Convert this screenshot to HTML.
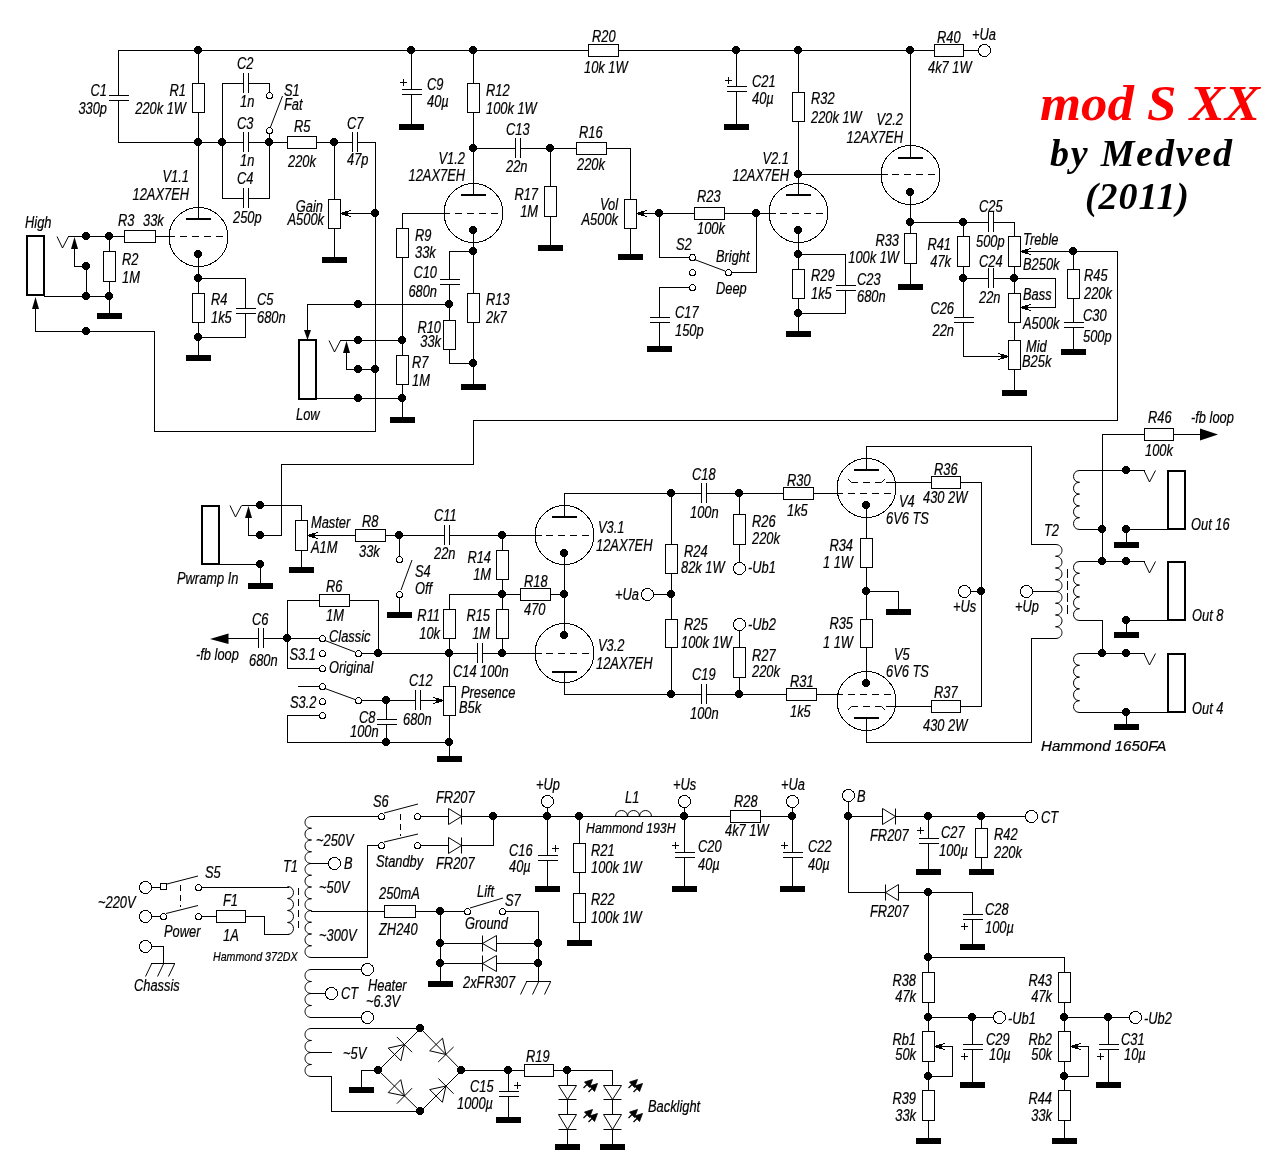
<!DOCTYPE html>
<html><head><meta charset="utf-8"><style>html,body{margin:0;padding:0;background:#fff;overflow:hidden}svg{display:block;will-change:transform}</style></head><body>
<svg width="1284" height="1172" viewBox="0 0 1284 1172">
<rect width="1284" height="1172" fill="#fff"/>
<g fill="none" stroke="#000" stroke-width="1" stroke-linecap="square" shape-rendering="crispEdges">
<path d="M118.5 50.5 L978.5 50.5"/>
<path d="M118.5 50.5 L118.5 142.5"/>
<path d="M198.5 50.5 L198.5 218.5"/>
<path d="M118.5 142.5 L375.5 142.5"/>
<path d="M222.5 83.5 L222.5 198.5"/>
<path d="M222.5 83.5 L269.5 83.5"/>
<path d="M269.5 83.5 L269.5 92.5"/>
<path d="M222.5 198.5 L269.5 198.5"/>
<path d="M269.5 133.5 L269.5 198.5"/>
<path d="M334.5 142.5 L334.5 257.5"/>
<path d="M341.5 213.5 L375.5 213.5"/>
<path d="M375.5 142.5 L375.5 431.5"/>
<path d="M68.5 236.5 L174.5 236.5"/>
<path d="M74.5 245.5 L74.5 266.5"/>
<path d="M74.5 266.5 L86.5 266.5"/>
<path d="M86.5 266.5 L86.5 296.5"/>
<path d="M109.5 236.5 L109.5 313.5"/>
<path d="M44.5 296.5 L109.5 296.5"/>
<path d="M35.5 305.5 L35.5 331.5"/>
<path d="M35.5 331.5 L154.5 331.5"/>
<path d="M154.5 331.5 L154.5 431.5"/>
<path d="M154.5 431.5 L375.5 431.5"/>
<path d="M198.5 254.5 L198.5 355.5"/>
<path d="M198.5 278.5 L245.5 278.5"/>
<path d="M245.5 278.5 L245.5 337.5"/>
<path d="M198.5 337.5 L245.5 337.5"/>
<path d="M411.5 50.5 L411.5 124.5"/>
<path d="M473.5 50.5 L473.5 194.5"/>
<path d="M473.5 148.5 L630.5 148.5"/>
<path d="M630.5 148.5 L630.5 199.5"/>
<path d="M550.5 148.5 L550.5 245.5"/>
<path d="M402.5 213.5 L449.5 213.5"/>
<path d="M402.5 213.5 L402.5 417.5"/>
<path d="M473.5 230.5 L473.5 384.5"/>
<path d="M449.5 251.5 L473.5 251.5"/>
<path d="M449.5 251.5 L449.5 363.5"/>
<path d="M449.5 363.5 L473.5 363.5"/>
<path d="M307.5 304.5 L449.5 304.5"/>
<path d="M307.5 304.5 L307.5 332.5"/>
<path d="M340.5 340.5 L402.5 340.5"/>
<path d="M346.5 350.5 L346.5 369.5"/>
<path d="M346.5 369.5 L375.5 369.5"/>
<path d="M316.5 398.5 L402.5 398.5"/>
<path d="M736.5 50.5 L736.5 124.5"/>
<path d="M798.5 50.5 L798.5 194.5"/>
<path d="M798.5 174.5 L887.5 174.5"/>
<path d="M630.5 228.5 L630.5 254.5"/>
<path d="M637.5 213.5 L775.5 213.5"/>
<path d="M659.5 213.5 L659.5 257.5"/>
<path d="M659.5 257.5 L689.5 257.5"/>
<path d="M731.5 272.5 L756.5 272.5"/>
<path d="M756.5 213.5 L756.5 272.5"/>
<path d="M659.5 287.5 L689.5 287.5"/>
<path d="M659.5 287.5 L659.5 346.5"/>
<path d="M798.5 230.5 L798.5 331.5"/>
<path d="M798.5 254.5 L845.5 254.5"/>
<path d="M845.5 254.5 L845.5 313.5"/>
<path d="M798.5 313.5 L845.5 313.5"/>
<path d="M910.5 50.5 L910.5 157.5"/>
<path d="M910.5 192.5 L910.5 284.5"/>
<path d="M910.5 222.5 L1014.5 222.5"/>
<path d="M963.5 222.5 L963.5 278.5"/>
<path d="M1014.5 222.5 L1014.5 390.5"/>
<path d="M1021.5 251.5 L1117.5 251.5"/>
<path d="M1117.5 251.5 L1117.5 420.5"/>
<path d="M963.5 278.5 L1055.5 278.5"/>
<path d="M1055.5 278.5 L1055.5 307.5"/>
<path d="M1021.5 307.5 L1055.5 307.5"/>
<path d="M963.5 278.5 L963.5 356.5"/>
<path d="M963.5 356.5 L1007.5 356.5"/>
<path d="M1073.5 251.5 L1073.5 349.5"/>
<path d="M473.5 420.5 L1117.5 420.5"/>
<path d="M473.5 420.5 L473.5 464.5"/>
<path d="M281.5 464.5 L473.5 464.5"/>
<path d="M281.5 464.5 L281.5 535.5"/>
<path d="M242.5 505.5 L301.5 505.5"/>
<path d="M301.5 505.5 L301.5 567.5"/>
<path d="M248.5 515.5 L248.5 535.5"/>
<path d="M248.5 535.5 L281.5 535.5"/>
<path d="M219.5 564.5 L260.5 564.5"/>
<path d="M260.5 564.5 L260.5 583.5"/>
<path d="M308.5 535.5 L541.5 535.5"/>
<path d="M399.5 535.5 L399.5 556.5"/>
<path d="M399.5 597.5 L399.5 612.5"/>
<path d="M287.5 600.5 L378.5 600.5"/>
<path d="M287.5 600.5 L287.5 668.5"/>
<path d="M378.5 600.5 L378.5 653.5"/>
<path d="M228.5 638.5 L319.5 638.5"/>
<path d="M287.5 668.5 L319.5 668.5"/>
<path d="M361.5 653.5 L541.5 653.5"/>
<path d="M449.5 594.5 L449.5 742.5"/>
<path d="M449.5 594.5 L564.5 594.5"/>
<path d="M502.5 535.5 L502.5 653.5"/>
<path d="M564.5 553.5 L564.5 635.5"/>
<path d="M449.5 742.5 L449.5 756.5"/>
<path d="M298.5 686.5 L319.5 686.5"/>
<path d="M361.5 700.5 L442.5 700.5"/>
<path d="M386.5 700.5 L386.5 742.5"/>
<path d="M287.5 715.5 L319.5 715.5"/>
<path d="M287.5 715.5 L287.5 742.5"/>
<path d="M287.5 742.5 L449.5 742.5"/>
<path d="M564.5 493.5 L564.5 515.5"/>
<path d="M564.5 493.5 L842.5 493.5"/>
<path d="M671.5 493.5 L671.5 694.5"/>
<path d="M653.5 594.5 L671.5 594.5"/>
<path d="M739.5 493.5 L739.5 562.5"/>
<path d="M739.5 630.5 L739.5 694.5"/>
<path d="M564.5 671.5 L564.5 694.5"/>
<path d="M564.5 694.5 L842.5 694.5"/>
<path d="M866.5 446.5 L866.5 469.5"/>
<path d="M866.5 446.5 L1031.5 446.5"/>
<path d="M1031.5 446.5 L1031.5 544.5"/>
<path d="M1031.5 544.5 L1055.5 544.5"/>
<path d="M886.5 482.5 L981.5 482.5"/>
<path d="M981.5 482.5 L981.5 706.5"/>
<path d="M970.5 591.5 L981.5 591.5"/>
<path d="M866.5 505.5 L866.5 683.5"/>
<path d="M866.5 591.5 L898.5 591.5"/>
<path d="M898.5 591.5 L898.5 609.5"/>
<path d="M866.5 717.5 L866.5 742.5"/>
<path d="M866.5 742.5 L1031.5 742.5"/>
<path d="M1031.5 638.5 L1031.5 742.5"/>
<path d="M1031.5 638.5 L1055.5 638.5"/>
<path d="M886.5 706.5 L981.5 706.5"/>
<path d="M1032.5 591.5 L1055.5 591.5"/>
<path d="M1079.5 470.5 L1144.5 470.5"/>
<path d="M1079.5 529.5 L1102.5 529.5"/>
<path d="M1126.5 529.5 L1167.5 529.5"/>
<path d="M1126.5 529.5 L1126.5 542.5"/>
<path d="M1102.5 434.5 L1102.5 561.5"/>
<path d="M1102.5 434.5 L1200.5 434.5"/>
<path d="M1079.5 561.5 L1144.5 561.5"/>
<path d="M1079.5 620.5 L1102.5 620.5"/>
<path d="M1102.5 620.5 L1102.5 653.5"/>
<path d="M1126.5 620.5 L1167.5 620.5"/>
<path d="M1126.5 620.5 L1126.5 632.5"/>
<path d="M1079.5 653.5 L1144.5 653.5"/>
<path d="M1079.5 712.5 L1167.5 712.5"/>
<path d="M1126.5 712.5 L1126.5 724.5"/>
<path d="M311.5 816.5 L378.5 816.5"/>
<path d="M420.5 816.5 L792.5 816.5"/>
<path d="M367.5 845.5 L378.5 845.5"/>
<path d="M420.5 845.5 L493.5 845.5"/>
<path d="M493.5 816.5 L493.5 845.5"/>
<path d="M367.5 845.5 L367.5 957.5"/>
<path d="M311.5 957.5 L367.5 957.5"/>
<path d="M311.5 863.5 L328.5 863.5"/>
<path d="M311.5 911.5 L464.5 911.5"/>
<path d="M505.5 911.5 L538.5 911.5"/>
<path d="M538.5 911.5 L538.5 981.5"/>
<path d="M440.5 911.5 L440.5 981.5"/>
<path d="M440.5 943.5 L538.5 943.5"/>
<path d="M440.5 963.5 L538.5 963.5"/>
<path d="M547.5 807.5 L547.5 886.5"/>
<path d="M579.5 816.5 L579.5 940.5"/>
<path d="M684.5 807.5 L684.5 886.5"/>
<path d="M792.5 807.5 L792.5 886.5"/>
<path d="M151.5 887.5 L160.5 887.5"/>
<path d="M201.5 887.5 L288.5 887.5"/>
<path d="M151.5 916.5 L160.5 916.5"/>
<path d="M201.5 916.5 L264.5 916.5"/>
<path d="M264.5 916.5 L264.5 934.5"/>
<path d="M264.5 934.5 L288.5 934.5"/>
<path d="M151.5 946.5 L163.5 946.5"/>
<path d="M163.5 946.5 L163.5 963.5"/>
<path d="M311.5 969.5 L361.5 969.5"/>
<path d="M311.5 993.5 L325.5 993.5"/>
<path d="M311.5 1017.5 L361.5 1017.5"/>
<path d="M311.5 1028.5 L420.5 1028.5"/>
<path d="M311.5 1052.5 L331.5 1052.5"/>
<path d="M311.5 1076.5 L331.5 1076.5"/>
<path d="M331.5 1076.5 L331.5 1111.5"/>
<path d="M331.5 1111.5 L420.5 1111.5"/>
<path d="M361.5 1070.5 L378.5 1070.5"/>
<path d="M361.5 1070.5 L361.5 1087.5"/>
<path d="M461.5 1070.5 L612.5 1070.5"/>
<path d="M612.5 1070.5 L612.5 1144.5"/>
<path d="M508.5 1070.5 L508.5 1117.5"/>
<path d="M567.5 1070.5 L567.5 1144.5"/>
<path d="M848.5 801.5 L848.5 892.5"/>
<path d="M848.5 816.5 L1025.5 816.5"/>
<path d="M928.5 816.5 L928.5 869.5"/>
<path d="M981.5 816.5 L981.5 869.5"/>
<path d="M848.5 892.5 L972.5 892.5"/>
<path d="M972.5 892.5 L972.5 944.5"/>
<path d="M928.5 892.5 L928.5 1138.5"/>
<path d="M928.5 957.5 L1064.5 957.5"/>
<path d="M1064.5 957.5 L1064.5 1138.5"/>
<path d="M928.5 1017.5 L993.5 1017.5"/>
<path d="M935.5 1046.5 L952.5 1046.5"/>
<path d="M952.5 1046.5 L952.5 1076.5"/>
<path d="M928.5 1076.5 L952.5 1076.5"/>
<path d="M972.5 1017.5 L972.5 1082.5"/>
<path d="M1064.5 1017.5 L1129.5 1017.5"/>
<path d="M1071.5 1046.5 L1088.5 1046.5"/>
<path d="M1088.5 1046.5 L1088.5 1076.5"/>
<path d="M1064.5 1076.5 L1088.5 1076.5"/>
<path d="M1108.5 1017.5 L1108.5 1082.5"/>
</g>
<g fill="none" stroke="#000" stroke-width="1" shape-rendering="crispEdges">
<rect x="109" y="96" width="20" height="4" fill="#fff" stroke="none"/>
<path d="M109 95.5 H129"/>
<path d="M109 100.5 H129"/>
<rect x="192.5" y="83.5" width="12" height="29" fill="#fff"/>
<path d="M196.4 138.1 L199.8 138.1 L202.1 140.4 L202.1 143.8 L199.8 146.1 L196.4 146.1 L194.1 143.8 L194.1 140.4 Z" fill="#000" stroke="none" shape-rendering="crispEdges"/>
<path d="M220.4 138.1 L223.8 138.1 L226.1 140.4 L226.1 143.8 L223.8 146.1 L220.4 146.1 L218.1 143.8 L218.1 140.4 Z" fill="#000" stroke="none" shape-rendering="crispEdges"/>
<path d="M267.4 138.1 L270.8 138.1 L273.1 140.4 L273.1 143.8 L270.8 146.1 L267.4 146.1 L265.1 143.8 L265.1 140.4 Z" fill="#000" stroke="none" shape-rendering="crispEdges"/>
<path d="M332.4 138.1 L335.8 138.1 L338.1 140.4 L338.1 143.8 L335.8 146.1 L332.4 146.1 L330.1 143.8 L330.1 140.4 Z" fill="#000" stroke="none" shape-rendering="crispEdges"/>
<path d="M196.4 46.1 L199.8 46.1 L202.1 48.4 L202.1 51.8 L199.8 54.1 L196.4 54.1 L194.1 51.8 L194.1 48.4 Z" fill="#000" stroke="none" shape-rendering="crispEdges"/>
<rect x="244" y="73" width="4" height="20" fill="#fff" stroke="none"/>
<path d="M243.5 73 V93"/>
<path d="M248.5 73 V93"/>
<rect x="244" y="132" width="4" height="20" fill="#fff" stroke="none"/>
<path d="M243.5 132 V152"/>
<path d="M248.5 132 V152"/>
<rect x="244" y="188" width="4" height="20" fill="#fff" stroke="none"/>
<path d="M243.5 188 V208"/>
<path d="M248.5 188 V208"/>
<circle cx="269.5" cy="95.5" r="3" fill="#fff" shape-rendering="crispEdges"/>
<circle cx="269.5" cy="130.5" r="3" fill="#fff" shape-rendering="crispEdges"/>
<path d="M270.5 127 L282.5 96" stroke-width="1" shape-rendering="auto"/>
<rect x="287.5" y="136.5" width="29" height="12" fill="#fff"/>
<rect x="353" y="132" width="4" height="20" fill="#fff" stroke="none"/>
<path d="M352.5 132 V152"/>
<path d="M357.5 132 V152"/>
<rect x="328.5" y="199.5" width="12" height="29" fill="#fff"/>
<rect x="322" y="257" width="25" height="6" fill="#000" stroke="none"/>
<rect x="342" y="212" width="3" height="3" fill="#000" stroke="none"/>
<rect x="345" y="211" width="3" height="5" fill="#000" stroke="none"/>
<rect x="348" y="211" width="1" height="1" fill="#000" stroke="none"/>
<rect x="348" y="215" width="1" height="1" fill="#000" stroke="none"/>
<rect x="349" y="210" width="2" height="1" fill="#000" stroke="none"/>
<rect x="349" y="216" width="2" height="1" fill="#000" stroke="none"/>
<path d="M373.4 209.1 L376.8 209.1 L379.1 211.4 L379.1 214.8 L376.8 217.1 L373.4 217.1 L371.1 214.8 L371.1 211.4 Z" fill="#000" stroke="none" shape-rendering="crispEdges"/>
<circle cx="198.5" cy="237" r="29.5" fill="none" shape-rendering="crispEdges"/>
<rect x="186" y="218" width="25" height="2" fill="#000" stroke="none"/>
<path d="M180 236.5 H228" stroke-dasharray="7 5"/>
<rect x="124.5" y="230.5" width="31" height="12" fill="#fff"/>
<path d="M196.4 250.1 L199.8 250.1 L202.1 252.4 L202.1 255.8 L199.8 258.1 L196.4 258.1 L194.1 255.8 L194.1 252.4 Z" fill="#000" stroke="none" shape-rendering="crispEdges"/>
<path d="M84.4 232.1 L87.8 232.1 L90.1 234.4 L90.1 237.8 L87.8 240.1 L84.4 240.1 L82.1 237.8 L82.1 234.4 Z" fill="#000" stroke="none" shape-rendering="crispEdges"/>
<path d="M107.4 232.1 L110.8 232.1 L113.1 234.4 L113.1 237.8 L110.8 240.1 L107.4 240.1 L105.1 237.8 L105.1 234.4 Z" fill="#000" stroke="none" shape-rendering="crispEdges"/>
<path d="M57 236.5 L62.5 248 L68.5 236.5" fill="none" shape-rendering="auto"/>
<path d="M74.5 237 L71 249 L78 249 Z" fill="#000" stroke="none" shape-rendering="auto"/>
<path d="M84.4 262.1 L87.8 262.1 L90.1 264.4 L90.1 267.8 L87.8 270.1 L84.4 270.1 L82.1 267.8 L82.1 264.4 Z" fill="#000" stroke="none" shape-rendering="crispEdges"/>
<path d="M84.4 292.1 L87.8 292.1 L90.1 294.4 L90.1 297.8 L87.8 300.1 L84.4 300.1 L82.1 297.8 L82.1 294.4 Z" fill="#000" stroke="none" shape-rendering="crispEdges"/>
<path d="M107.4 292.1 L110.8 292.1 L113.1 294.4 L113.1 297.8 L110.8 300.1 L107.4 300.1 L105.1 297.8 L105.1 294.4 Z" fill="#000" stroke="none" shape-rendering="crispEdges"/>
<rect x="103.5" y="251.5" width="12" height="30" fill="#fff"/>
<rect x="97" y="313" width="25" height="6" fill="#000" stroke="none"/>
<rect x="27" y="236" width="17" height="59" fill="#fff" stroke-width="2"/>
<path d="M35.5 297 L32 309 L39 309 Z" fill="#000" stroke="none" shape-rendering="auto"/>
<path d="M84.4 327.1 L87.8 327.1 L90.1 329.4 L90.1 332.8 L87.8 335.1 L84.4 335.1 L82.1 332.8 L82.1 329.4 Z" fill="#000" stroke="none" shape-rendering="crispEdges"/>
<path d="M196.4 274.1 L199.8 274.1 L202.1 276.4 L202.1 279.8 L199.8 282.1 L196.4 282.1 L194.1 279.8 L194.1 276.4 Z" fill="#000" stroke="none" shape-rendering="crispEdges"/>
<path d="M196.4 333.1 L199.8 333.1 L202.1 335.4 L202.1 338.8 L199.8 341.1 L196.4 341.1 L194.1 338.8 L194.1 335.4 Z" fill="#000" stroke="none" shape-rendering="crispEdges"/>
<rect x="192.5" y="293.5" width="12" height="29" fill="#fff"/>
<rect x="236" y="309" width="20" height="4" fill="#fff" stroke="none"/>
<path d="M236 308.5 H256"/>
<path d="M236 313.5 H256"/>
<rect x="186" y="355" width="25" height="6" fill="#000" stroke="none"/>
<rect x="402" y="90" width="20" height="4" fill="#fff" stroke="none"/>
<path d="M402 89.5 H422"/>
<path d="M402 94.5 H422"/>
<path d="M400 82.5 H407 M403.5 79 V86" shape-rendering="crispEdges"/>
<rect x="399" y="124" width="25" height="6" fill="#000" stroke="none"/>
<path d="M409.4 46.1 L412.8 46.1 L415.1 48.4 L415.1 51.8 L412.8 54.1 L409.4 54.1 L407.1 51.8 L407.1 48.4 Z" fill="#000" stroke="none" shape-rendering="crispEdges"/>
<path d="M471.4 46.1 L474.8 46.1 L477.1 48.4 L477.1 51.8 L474.8 54.1 L471.4 54.1 L469.1 51.8 L469.1 48.4 Z" fill="#000" stroke="none" shape-rendering="crispEdges"/>
<rect x="467.5" y="83.5" width="12" height="29" fill="#fff"/>
<path d="M471.4 144.1 L474.8 144.1 L477.1 146.4 L477.1 149.8 L474.8 152.1 L471.4 152.1 L469.1 149.8 L469.1 146.4 Z" fill="#000" stroke="none" shape-rendering="crispEdges"/>
<rect x="516" y="138" width="4" height="20" fill="#fff" stroke="none"/>
<path d="M515.5 138 V158"/>
<path d="M520.5 138 V158"/>
<path d="M548.4 144.1 L551.8 144.1 L554.1 146.4 L554.1 149.8 L551.8 152.1 L548.4 152.1 L546.1 149.8 L546.1 146.4 Z" fill="#000" stroke="none" shape-rendering="crispEdges"/>
<rect x="576.5" y="142.5" width="30" height="12" fill="#fff"/>
<rect x="544.5" y="186.5" width="12" height="30" fill="#fff"/>
<rect x="538" y="245" width="25" height="6" fill="#000" stroke="none"/>
<circle cx="473.5" cy="213" r="29.5" fill="none" shape-rendering="crispEdges"/>
<rect x="461" y="194" width="25" height="2" fill="#000" stroke="none"/>
<path d="M455 213.5 H503" stroke-dasharray="7 5"/>
<rect x="396.5" y="228.5" width="12" height="29" fill="#fff"/>
<path d="M400.4 336.1 L403.8 336.1 L406.1 338.4 L406.1 341.8 L403.8 344.1 L400.4 344.1 L398.1 341.8 L398.1 338.4 Z" fill="#000" stroke="none" shape-rendering="crispEdges"/>
<rect x="396.5" y="355.5" width="12" height="29" fill="#fff"/>
<path d="M400.4 394.1 L403.8 394.1 L406.1 396.4 L406.1 399.8 L403.8 402.1 L400.4 402.1 L398.1 399.8 L398.1 396.4 Z" fill="#000" stroke="none" shape-rendering="crispEdges"/>
<rect x="390" y="417" width="25" height="6" fill="#000" stroke="none"/>
<path d="M471.4 226.1 L474.8 226.1 L477.1 228.4 L477.1 231.8 L474.8 234.1 L471.4 234.1 L469.1 231.8 L469.1 228.4 Z" fill="#000" stroke="none" shape-rendering="crispEdges"/>
<path d="M471.4 247.1 L474.8 247.1 L477.1 249.4 L477.1 252.8 L474.8 255.1 L471.4 255.1 L469.1 252.8 L469.1 249.4 Z" fill="#000" stroke="none" shape-rendering="crispEdges"/>
<rect x="440" y="280" width="20" height="4" fill="#fff" stroke="none"/>
<path d="M440 279.5 H460"/>
<path d="M440 284.5 H460"/>
<path d="M447.4 300.1 L450.8 300.1 L453.1 302.4 L453.1 305.8 L450.8 308.1 L447.4 308.1 L445.1 305.8 L445.1 302.4 Z" fill="#000" stroke="none" shape-rendering="crispEdges"/>
<rect x="443.5" y="320.5" width="12" height="29" fill="#fff"/>
<path d="M471.4 359.1 L474.8 359.1 L477.1 361.4 L477.1 364.8 L474.8 367.1 L471.4 367.1 L469.1 364.8 L469.1 361.4 Z" fill="#000" stroke="none" shape-rendering="crispEdges"/>
<rect x="467.5" y="293.5" width="12" height="29" fill="#fff"/>
<rect x="461" y="384" width="25" height="6" fill="#000" stroke="none"/>
<path d="M356.4 300.1 L359.8 300.1 L362.1 302.4 L362.1 305.8 L359.8 308.1 L356.4 308.1 L354.1 305.8 L354.1 302.4 Z" fill="#000" stroke="none" shape-rendering="crispEdges"/>
<path d="M307.5 340 L304 330 L311 330 Z" fill="#000" stroke="none" shape-rendering="auto"/>
<rect x="299" y="340" width="17" height="59" fill="#fff" stroke-width="2"/>
<path d="M329 340.5 L334.5 352 L340.5 340.5" fill="none" shape-rendering="auto"/>
<path d="M356.4 336.1 L359.8 336.1 L362.1 338.4 L362.1 341.8 L359.8 344.1 L356.4 344.1 L354.1 341.8 L354.1 338.4 Z" fill="#000" stroke="none" shape-rendering="crispEdges"/>
<path d="M346.5 341 L343 353 L350 353 Z" fill="#000" stroke="none" shape-rendering="auto"/>
<path d="M356.4 365.1 L359.8 365.1 L362.1 367.4 L362.1 370.8 L359.8 373.1 L356.4 373.1 L354.1 370.8 L354.1 367.4 Z" fill="#000" stroke="none" shape-rendering="crispEdges"/>
<path d="M373.4 365.1 L376.8 365.1 L379.1 367.4 L379.1 370.8 L376.8 373.1 L373.4 373.1 L371.1 370.8 L371.1 367.4 Z" fill="#000" stroke="none" shape-rendering="crispEdges"/>
<path d="M356.4 394.1 L359.8 394.1 L362.1 396.4 L362.1 399.8 L359.8 402.1 L356.4 402.1 L354.1 399.8 L354.1 396.4 Z" fill="#000" stroke="none" shape-rendering="crispEdges"/>
<rect x="588.5" y="44.5" width="30" height="12" fill="#fff"/>
<rect x="727" y="87" width="20" height="4" fill="#fff" stroke="none"/>
<path d="M727 86.5 H747"/>
<path d="M727 91.5 H747"/>
<path d="M725 80.5 H732 M728.5 77 V84" shape-rendering="crispEdges"/>
<rect x="724" y="124" width="25" height="6" fill="#000" stroke="none"/>
<path d="M734.4 46.1 L737.8 46.1 L740.1 48.4 L740.1 51.8 L737.8 54.1 L734.4 54.1 L732.1 51.8 L732.1 48.4 Z" fill="#000" stroke="none" shape-rendering="crispEdges"/>
<path d="M796.4 46.1 L799.8 46.1 L802.1 48.4 L802.1 51.8 L799.8 54.1 L796.4 54.1 L794.1 51.8 L794.1 48.4 Z" fill="#000" stroke="none" shape-rendering="crispEdges"/>
<rect x="792.5" y="92.5" width="12" height="29" fill="#fff"/>
<path d="M796.4 170.1 L799.8 170.1 L802.1 172.4 L802.1 175.8 L799.8 178.1 L796.4 178.1 L794.1 175.8 L794.1 172.4 Z" fill="#000" stroke="none" shape-rendering="crispEdges"/>
<rect x="624.5" y="199.5" width="12" height="29" fill="#fff"/>
<rect x="618" y="254" width="25" height="6" fill="#000" stroke="none"/>
<rect x="638" y="212" width="3" height="3" fill="#000" stroke="none"/>
<rect x="641" y="211" width="3" height="5" fill="#000" stroke="none"/>
<rect x="644" y="211" width="1" height="1" fill="#000" stroke="none"/>
<rect x="644" y="215" width="1" height="1" fill="#000" stroke="none"/>
<rect x="645" y="210" width="2" height="1" fill="#000" stroke="none"/>
<rect x="645" y="216" width="2" height="1" fill="#000" stroke="none"/>
<path d="M657.4 209.1 L660.8 209.1 L663.1 211.4 L663.1 214.8 L660.8 217.1 L657.4 217.1 L655.1 214.8 L655.1 211.4 Z" fill="#000" stroke="none" shape-rendering="crispEdges"/>
<rect x="694.5" y="207.5" width="30" height="12" fill="#fff"/>
<path d="M754.4 209.1 L757.8 209.1 L760.1 211.4 L760.1 214.8 L757.8 217.1 L754.4 217.1 L752.1 214.8 L752.1 211.4 Z" fill="#000" stroke="none" shape-rendering="crispEdges"/>
<circle cx="692.5" cy="257.5" r="3" fill="#fff" shape-rendering="crispEdges"/>
<circle cx="692.5" cy="272.5" r="3" fill="#fff" shape-rendering="crispEdges"/>
<circle cx="692.5" cy="287.5" r="3" fill="#fff" shape-rendering="crispEdges"/>
<circle cx="728.5" cy="272.5" r="3" fill="#fff" shape-rendering="crispEdges"/>
<path d="M694.5 259.5 L725 271" stroke-width="1" shape-rendering="auto"/>
<rect x="650" y="318" width="20" height="4" fill="#fff" stroke="none"/>
<path d="M650 317.5 H670"/>
<path d="M650 322.5 H670"/>
<rect x="647" y="346" width="25" height="6" fill="#000" stroke="none"/>
<circle cx="798.5" cy="213" r="29.5" fill="none" shape-rendering="crispEdges"/>
<rect x="786" y="194" width="25" height="2" fill="#000" stroke="none"/>
<path d="M780 213.5 H828" stroke-dasharray="7 5"/>
<path d="M796.4 226.1 L799.8 226.1 L802.1 228.4 L802.1 231.8 L799.8 234.1 L796.4 234.1 L794.1 231.8 L794.1 228.4 Z" fill="#000" stroke="none" shape-rendering="crispEdges"/>
<path d="M796.4 250.1 L799.8 250.1 L802.1 252.4 L802.1 255.8 L799.8 258.1 L796.4 258.1 L794.1 255.8 L794.1 252.4 Z" fill="#000" stroke="none" shape-rendering="crispEdges"/>
<rect x="792.5" y="269.5" width="12" height="29" fill="#fff"/>
<path d="M796.4 309.1 L799.8 309.1 L802.1 311.4 L802.1 314.8 L799.8 317.1 L796.4 317.1 L794.1 314.8 L794.1 311.4 Z" fill="#000" stroke="none" shape-rendering="crispEdges"/>
<rect x="836" y="286" width="20" height="4" fill="#fff" stroke="none"/>
<path d="M836 285.5 H856"/>
<path d="M836 290.5 H856"/>
<rect x="786" y="331" width="25" height="6" fill="#000" stroke="none"/>
<path d="M908.4 46.1 L911.8 46.1 L914.1 48.4 L914.1 51.8 L911.8 54.1 L908.4 54.1 L906.1 51.8 L906.1 48.4 Z" fill="#000" stroke="none" shape-rendering="crispEdges"/>
<rect x="934.5" y="44.5" width="29" height="12" fill="#fff"/>
<circle cx="984.5" cy="50.5" r="6" fill="#fff" shape-rendering="crispEdges"/>
<circle cx="910.5" cy="175" r="29.5" fill="none" shape-rendering="crispEdges"/>
<rect x="898" y="157" width="25" height="2" fill="#000" stroke="none"/>
<path d="M892 174.5 H940" stroke-dasharray="7 5"/>
<path d="M908.4 188.1 L911.8 188.1 L914.1 190.4 L914.1 193.8 L911.8 196.1 L908.4 196.1 L906.1 193.8 L906.1 190.4 Z" fill="#000" stroke="none" shape-rendering="crispEdges"/>
<path d="M908.4 218.1 L911.8 218.1 L914.1 220.4 L914.1 223.8 L911.8 226.1 L908.4 226.1 L906.1 223.8 L906.1 220.4 Z" fill="#000" stroke="none" shape-rendering="crispEdges"/>
<rect x="904.5" y="233.5" width="12" height="30" fill="#fff"/>
<rect x="898" y="284" width="25" height="6" fill="#000" stroke="none"/>
<path d="M961.4 218.1 L964.8 218.1 L967.1 220.4 L967.1 223.8 L964.8 226.1 L961.4 226.1 L959.1 223.8 L959.1 220.4 Z" fill="#000" stroke="none" shape-rendering="crispEdges"/>
<rect x="989" y="212" width="4" height="20" fill="#fff" stroke="none"/>
<path d="M988.5 212 V232"/>
<path d="M993.5 212 V232"/>
<rect x="957.5" y="236.5" width="12" height="30" fill="#fff"/>
<path d="M961.4 274.1 L964.8 274.1 L967.1 276.4 L967.1 279.8 L964.8 282.1 L961.4 282.1 L959.1 279.8 L959.1 276.4 Z" fill="#000" stroke="none" shape-rendering="crispEdges"/>
<rect x="1008.5" y="236.5" width="12" height="30" fill="#fff"/>
<path d="M1012.4 274.1 L1015.8 274.1 L1018.1 276.4 L1018.1 279.8 L1015.8 282.1 L1012.4 282.1 L1010.1 279.8 L1010.1 276.4 Z" fill="#000" stroke="none" shape-rendering="crispEdges"/>
<rect x="1022" y="250" width="3" height="3" fill="#000" stroke="none"/>
<rect x="1025" y="249" width="3" height="5" fill="#000" stroke="none"/>
<rect x="1028" y="249" width="1" height="1" fill="#000" stroke="none"/>
<rect x="1028" y="253" width="1" height="1" fill="#000" stroke="none"/>
<rect x="1029" y="248" width="2" height="1" fill="#000" stroke="none"/>
<rect x="1029" y="254" width="2" height="1" fill="#000" stroke="none"/>
<path d="M1071.4 247.1 L1074.8 247.1 L1077.1 249.4 L1077.1 252.8 L1074.8 255.1 L1071.4 255.1 L1069.1 252.8 L1069.1 249.4 Z" fill="#000" stroke="none" shape-rendering="crispEdges"/>
<rect x="989" y="268" width="4" height="20" fill="#fff" stroke="none"/>
<path d="M988.5 268 V288"/>
<path d="M993.5 268 V288"/>
<rect x="1022" y="306" width="3" height="3" fill="#000" stroke="none"/>
<rect x="1025" y="305" width="3" height="5" fill="#000" stroke="none"/>
<rect x="1028" y="305" width="1" height="1" fill="#000" stroke="none"/>
<rect x="1028" y="309" width="1" height="1" fill="#000" stroke="none"/>
<rect x="1029" y="304" width="2" height="1" fill="#000" stroke="none"/>
<rect x="1029" y="310" width="2" height="1" fill="#000" stroke="none"/>
<rect x="1008.5" y="293.5" width="12" height="29" fill="#fff"/>
<rect x="1008.5" y="340.5" width="12" height="29" fill="#fff"/>
<rect x="1002" y="390" width="25" height="6" fill="#000" stroke="none"/>
<rect x="954" y="318" width="20" height="4" fill="#fff" stroke="none"/>
<path d="M954 317.5 H974"/>
<path d="M954 322.5 H974"/>
<rect x="1004" y="355" width="3" height="3" fill="#000" stroke="none"/>
<rect x="1001" y="354" width="3" height="5" fill="#000" stroke="none"/>
<rect x="1000" y="354" width="1" height="1" fill="#000" stroke="none"/>
<rect x="1000" y="358" width="1" height="1" fill="#000" stroke="none"/>
<rect x="998" y="353" width="2" height="1" fill="#000" stroke="none"/>
<rect x="998" y="359" width="2" height="1" fill="#000" stroke="none"/>
<rect x="1067.5" y="269.5" width="12" height="29" fill="#fff"/>
<rect x="1064" y="323" width="20" height="4" fill="#fff" stroke="none"/>
<path d="M1064 322.5 H1084"/>
<path d="M1064 327.5 H1084"/>
<rect x="1061" y="349" width="25" height="6" fill="#000" stroke="none"/>
<rect x="202" y="506" width="17" height="58" fill="#fff" stroke-width="2"/>
<path d="M230 505.5 L235.5 517 L241.5 505.5" fill="none" shape-rendering="auto"/>
<path d="M258.4 501.1 L261.8 501.1 L264.1 503.4 L264.1 506.8 L261.8 509.1 L258.4 509.1 L256.1 506.8 L256.1 503.4 Z" fill="#000" stroke="none" shape-rendering="crispEdges"/>
<rect x="295.5" y="520.5" width="12" height="30" fill="#fff"/>
<rect x="289" y="567" width="25" height="6" fill="#000" stroke="none"/>
<path d="M248.5 506 L245 518 L252 518 Z" fill="#000" stroke="none" shape-rendering="auto"/>
<path d="M258.4 531.1 L261.8 531.1 L264.1 533.4 L264.1 536.8 L261.8 539.1 L258.4 539.1 L256.1 536.8 L256.1 533.4 Z" fill="#000" stroke="none" shape-rendering="crispEdges"/>
<path d="M258.4 560.1 L261.8 560.1 L264.1 562.4 L264.1 565.8 L261.8 568.1 L258.4 568.1 L256.1 565.8 L256.1 562.4 Z" fill="#000" stroke="none" shape-rendering="crispEdges"/>
<rect x="248" y="583" width="25" height="6" fill="#000" stroke="none"/>
<rect x="309" y="534" width="3" height="3" fill="#000" stroke="none"/>
<rect x="312" y="533" width="3" height="5" fill="#000" stroke="none"/>
<rect x="315" y="533" width="1" height="1" fill="#000" stroke="none"/>
<rect x="315" y="537" width="1" height="1" fill="#000" stroke="none"/>
<rect x="316" y="532" width="2" height="1" fill="#000" stroke="none"/>
<rect x="316" y="538" width="2" height="1" fill="#000" stroke="none"/>
<rect x="355.5" y="529.5" width="30" height="12" fill="#fff"/>
<path d="M397.4 531.1 L400.8 531.1 L403.1 533.4 L403.1 536.8 L400.8 539.1 L397.4 539.1 L395.1 536.8 L395.1 533.4 Z" fill="#000" stroke="none" shape-rendering="crispEdges"/>
<rect x="445" y="525" width="4" height="20" fill="#fff" stroke="none"/>
<path d="M444.5 525 V545"/>
<path d="M449.5 525 V545"/>
<path d="M500.4 531.1 L503.8 531.1 L506.1 533.4 L506.1 536.8 L503.8 539.1 L500.4 539.1 L498.1 536.8 L498.1 533.4 Z" fill="#000" stroke="none" shape-rendering="crispEdges"/>
<circle cx="399.5" cy="559.5" r="3" fill="#fff" shape-rendering="crispEdges"/>
<circle cx="399.5" cy="594.5" r="3" fill="#fff" shape-rendering="crispEdges"/>
<path d="M401 590 L412 560" stroke-width="1" shape-rendering="auto"/>
<rect x="387" y="612" width="25" height="6" fill="#000" stroke="none"/>
<rect x="319.5" y="594.5" width="30" height="12" fill="#fff"/>
<path d="M210 639 L228.5 633.5 L228.5 644 Z" fill="#000" stroke="none" shape-rendering="auto"/>
<rect x="259" y="628" width="4" height="20" fill="#fff" stroke="none"/>
<path d="M258.5 628 V648"/>
<path d="M263.5 628 V648"/>
<path d="M285.4 634.1 L288.8 634.1 L291.1 636.4 L291.1 639.8 L288.8 642.1 L285.4 642.1 L283.1 639.8 L283.1 636.4 Z" fill="#000" stroke="none" shape-rendering="crispEdges"/>
<circle cx="322.5" cy="638.5" r="3" fill="#fff" shape-rendering="crispEdges"/>
<circle cx="322.5" cy="653.5" r="3" fill="#fff" shape-rendering="crispEdges"/>
<circle cx="322.5" cy="668.5" r="3" fill="#fff" shape-rendering="crispEdges"/>
<circle cx="358.5" cy="653.5" r="3" fill="#fff" shape-rendering="crispEdges"/>
<path d="M325 640.5 L355 652" stroke-width="1" shape-rendering="auto"/>
<path d="M376.4 649.1 L379.8 649.1 L382.1 651.4 L382.1 654.8 L379.8 657.1 L376.4 657.1 L374.1 654.8 L374.1 651.4 Z" fill="#000" stroke="none" shape-rendering="crispEdges"/>
<path d="M447.4 649.1 L450.8 649.1 L453.1 651.4 L453.1 654.8 L450.8 657.1 L447.4 657.1 L445.1 654.8 L445.1 651.4 Z" fill="#000" stroke="none" shape-rendering="crispEdges"/>
<path d="M500.4 649.1 L503.8 649.1 L506.1 651.4 L506.1 654.8 L503.8 657.1 L500.4 657.1 L498.1 654.8 L498.1 651.4 Z" fill="#000" stroke="none" shape-rendering="crispEdges"/>
<rect x="478" y="643" width="4" height="20" fill="#fff" stroke="none"/>
<path d="M477.5 643 V663"/>
<path d="M482.5 643 V663"/>
<rect x="443.5" y="609.5" width="12" height="29" fill="#fff"/>
<path d="M500.4 590.1 L503.8 590.1 L506.1 592.4 L506.1 595.8 L503.8 598.1 L500.4 598.1 L498.1 595.8 L498.1 592.4 Z" fill="#000" stroke="none" shape-rendering="crispEdges"/>
<path d="M562.4 590.1 L565.8 590.1 L568.1 592.4 L568.1 595.8 L565.8 598.1 L562.4 598.1 L560.1 595.8 L560.1 592.4 Z" fill="#000" stroke="none" shape-rendering="crispEdges"/>
<rect x="520.5" y="588.5" width="30" height="12" fill="#fff"/>
<rect x="496.5" y="550.5" width="12" height="29" fill="#fff"/>
<rect x="496.5" y="609.5" width="12" height="29" fill="#fff"/>
<rect x="443.5" y="686.5" width="12" height="29" fill="#fff"/>
<path d="M447.4 738.1 L450.8 738.1 L453.1 740.4 L453.1 743.8 L450.8 746.1 L447.4 746.1 L445.1 743.8 L445.1 740.4 Z" fill="#000" stroke="none" shape-rendering="crispEdges"/>
<rect x="437" y="756" width="25" height="6" fill="#000" stroke="none"/>
<circle cx="322.5" cy="686.5" r="3" fill="#fff" shape-rendering="crispEdges"/>
<circle cx="322.5" cy="701.5" r="3" fill="#fff" shape-rendering="crispEdges"/>
<circle cx="322.5" cy="715.5" r="3" fill="#fff" shape-rendering="crispEdges"/>
<circle cx="358.5" cy="700.5" r="3" fill="#fff" shape-rendering="crispEdges"/>
<path d="M325 688.5 L355 699.5" stroke-width="1" shape-rendering="auto"/>
<rect x="439" y="699" width="3" height="3" fill="#000" stroke="none"/>
<rect x="436" y="698" width="3" height="5" fill="#000" stroke="none"/>
<rect x="435" y="698" width="1" height="1" fill="#000" stroke="none"/>
<rect x="435" y="702" width="1" height="1" fill="#000" stroke="none"/>
<rect x="433" y="697" width="2" height="1" fill="#000" stroke="none"/>
<rect x="433" y="703" width="2" height="1" fill="#000" stroke="none"/>
<path d="M384.4 696.1 L387.8 696.1 L390.1 698.4 L390.1 701.8 L387.8 704.1 L384.4 704.1 L382.1 701.8 L382.1 698.4 Z" fill="#000" stroke="none" shape-rendering="crispEdges"/>
<rect x="416" y="690" width="4" height="20" fill="#fff" stroke="none"/>
<path d="M415.5 690 V710"/>
<path d="M420.5 690 V710"/>
<rect x="377" y="720" width="20" height="4" fill="#fff" stroke="none"/>
<path d="M377 719.5 H397"/>
<path d="M377 724.5 H397"/>
<path d="M384.4 738.1 L387.8 738.1 L390.1 740.4 L390.1 743.8 L387.8 746.1 L384.4 746.1 L382.1 743.8 L382.1 740.4 Z" fill="#000" stroke="none" shape-rendering="crispEdges"/>
<circle cx="564.5" cy="535" r="29.5" fill="none" shape-rendering="crispEdges"/>
<rect x="552" y="516" width="25" height="2" fill="#000" stroke="none"/>
<path d="M546 535.5 H594" stroke-dasharray="7 5"/>
<path d="M669.4 489.1 L672.8 489.1 L675.1 491.4 L675.1 494.8 L672.8 497.1 L669.4 497.1 L667.1 494.8 L667.1 491.4 Z" fill="#000" stroke="none" shape-rendering="crispEdges"/>
<rect x="702" y="483" width="4" height="20" fill="#fff" stroke="none"/>
<path d="M701.5 483 V503"/>
<path d="M706.5 483 V503"/>
<path d="M737.4 489.1 L740.8 489.1 L743.1 491.4 L743.1 494.8 L740.8 497.1 L737.4 497.1 L735.1 494.8 L735.1 491.4 Z" fill="#000" stroke="none" shape-rendering="crispEdges"/>
<rect x="783.5" y="487.5" width="30" height="12" fill="#fff"/>
<rect x="665.5" y="544.5" width="12" height="29" fill="#fff"/>
<path d="M669.4 590.1 L672.8 590.1 L675.1 592.4 L675.1 595.8 L672.8 598.1 L669.4 598.1 L667.1 595.8 L667.1 592.4 Z" fill="#000" stroke="none" shape-rendering="crispEdges"/>
<rect x="665.5" y="619.5" width="12" height="28" fill="#fff"/>
<path d="M669.4 690.1 L672.8 690.1 L675.1 692.4 L675.1 695.8 L672.8 698.1 L669.4 698.1 L667.1 695.8 L667.1 692.4 Z" fill="#000" stroke="none" shape-rendering="crispEdges"/>
<circle cx="647.5" cy="594.5" r="6" fill="#fff" shape-rendering="crispEdges"/>
<rect x="733.5" y="514.5" width="12" height="30" fill="#fff"/>
<circle cx="739.5" cy="568.5" r="6" fill="#fff" shape-rendering="crispEdges"/>
<circle cx="739.5" cy="624.5" r="6" fill="#fff" shape-rendering="crispEdges"/>
<rect x="733.5" y="647.5" width="12" height="30" fill="#fff"/>
<path d="M737.4 690.1 L740.8 690.1 L743.1 692.4 L743.1 695.8 L740.8 698.1 L737.4 698.1 L735.1 695.8 L735.1 692.4 Z" fill="#000" stroke="none" shape-rendering="crispEdges"/>
<path d="M562.4 549.1 L565.8 549.1 L568.1 551.4 L568.1 554.8 L565.8 557.1 L562.4 557.1 L560.1 554.8 L560.1 551.4 Z" fill="#000" stroke="none" shape-rendering="crispEdges"/>
<path d="M562.4 631.1 L565.8 631.1 L568.1 633.4 L568.1 636.8 L565.8 639.1 L562.4 639.1 L560.1 636.8 L560.1 633.4 Z" fill="#000" stroke="none" shape-rendering="crispEdges"/>
<circle cx="564.5" cy="653" r="29.5" fill="none" shape-rendering="crispEdges"/>
<rect x="552" y="671" width="25" height="2" fill="#000" stroke="none"/>
<path d="M546 653.5 H594" stroke-dasharray="7 5"/>
<rect x="702" y="684" width="4" height="20" fill="#fff" stroke="none"/>
<path d="M701.5 684 V704"/>
<path d="M706.5 684 V704"/>
<rect x="786.5" y="688.5" width="30" height="12" fill="#fff"/>
<circle cx="866.5" cy="488" r="29.5" fill="none" shape-rendering="crispEdges"/>
<rect x="854" y="469" width="25" height="2" fill="#000" stroke="none"/>
<path d="M848 493.5 H896" stroke-dasharray="7 5"/>
<path d="M848 479 L851.5 482.5 H858 M863 482.5 H870 M875 482.5 H881.5 L885 479" fill="none" shape-rendering="auto"/>
<rect x="931.5" y="476.5" width="29" height="12" fill="#fff"/>
<path d="M979.4 587.1 L982.8 587.1 L985.1 589.4 L985.1 592.8 L982.8 595.1 L979.4 595.1 L977.1 592.8 L977.1 589.4 Z" fill="#000" stroke="none" shape-rendering="crispEdges"/>
<circle cx="964.5" cy="591.5" r="6" fill="#fff" shape-rendering="crispEdges"/>
<path d="M864.4 501.1 L867.8 501.1 L870.1 503.4 L870.1 506.8 L867.8 509.1 L864.4 509.1 L862.1 506.8 L862.1 503.4 Z" fill="#000" stroke="none" shape-rendering="crispEdges"/>
<rect x="860.5" y="538.5" width="12" height="29" fill="#fff"/>
<path d="M864.4 587.1 L867.8 587.1 L870.1 589.4 L870.1 592.8 L867.8 595.1 L864.4 595.1 L862.1 592.8 L862.1 589.4 Z" fill="#000" stroke="none" shape-rendering="crispEdges"/>
<rect x="860.5" y="619.5" width="12" height="28" fill="#fff"/>
<path d="M864.4 679.1 L867.8 679.1 L870.1 681.4 L870.1 684.8 L867.8 687.1 L864.4 687.1 L862.1 684.8 L862.1 681.4 Z" fill="#000" stroke="none" shape-rendering="crispEdges"/>
<rect x="886" y="609" width="25" height="6" fill="#000" stroke="none"/>
<circle cx="866.5" cy="701" r="29.5" fill="none" shape-rendering="crispEdges"/>
<rect x="854" y="717" width="25" height="2" fill="#000" stroke="none"/>
<path d="M848 694.5 H896" stroke-dasharray="7 5"/>
<path d="M848 710 L851.5 706.5 H858 M863 706.5 H870 M875 706.5 H881.5 L885 710" fill="none" shape-rendering="auto"/>
<rect x="931.5" y="700.5" width="29" height="12" fill="#fff"/>
<circle cx="1026.5" cy="591.5" r="6" fill="#fff" shape-rendering="crispEdges"/>
<path d="M1055.5 544.5 C1064.14 544.5 1064.14 556.25 1055.5 556.25 C1064.14 556.25 1064.14 568 1055.5 568 C1064.14 568 1064.14 579.75 1055.5 579.75 C1064.14 579.75 1064.14 591.5 1055.5 591.5 C1064.14 591.5 1064.14 603.25 1055.5 603.25 C1064.14 603.25 1064.14 615 1055.5 615 C1064.14 615 1064.14 626.75 1055.5 626.75 C1064.14 626.75 1064.14 638.5 1055.5 638.5" fill="none" shape-rendering="auto"/>
<path d="M1067.5 569 V614" stroke-dasharray="9 3"/>
<path d="M1079.5 470.5 C1071.52 470.5 1071.52 482.3 1079.5 482.3 C1071.52 482.3 1071.52 494.1 1079.5 494.1 C1071.52 494.1 1071.52 505.9 1079.5 505.9 C1071.52 505.9 1071.52 517.7 1079.5 517.7 C1071.52 517.7 1071.52 529.5 1079.5 529.5" fill="none" shape-rendering="auto"/>
<path d="M1079.5 561.5 C1071.52 561.5 1071.52 573.3 1079.5 573.3 C1071.52 573.3 1071.52 585.1 1079.5 585.1 C1071.52 585.1 1071.52 596.9 1079.5 596.9 C1071.52 596.9 1071.52 608.7 1079.5 608.7 C1071.52 608.7 1071.52 620.5 1079.5 620.5" fill="none" shape-rendering="auto"/>
<path d="M1079.5 653.5 C1071.52 653.5 1071.52 665.3 1079.5 665.3 C1071.52 665.3 1071.52 677.1 1079.5 677.1 C1071.52 677.1 1071.52 688.9 1079.5 688.9 C1071.52 688.9 1071.52 700.7 1079.5 700.7 C1071.52 700.7 1071.52 712.5 1079.5 712.5" fill="none" shape-rendering="auto"/>
<path d="M1144 470.5 L1149.5 482 L1155.5 470.5" fill="none" shape-rendering="auto"/>
<path d="M1124.4 466.1 L1127.8 466.1 L1130.1 468.4 L1130.1 471.8 L1127.8 474.1 L1124.4 474.1 L1122.1 471.8 L1122.1 468.4 Z" fill="#000" stroke="none" shape-rendering="crispEdges"/>
<path d="M1100.4 525.1 L1103.8 525.1 L1106.1 527.4 L1106.1 530.8 L1103.8 533.1 L1100.4 533.1 L1098.1 530.8 L1098.1 527.4 Z" fill="#000" stroke="none" shape-rendering="crispEdges"/>
<path d="M1124.4 525.1 L1127.8 525.1 L1130.1 527.4 L1130.1 530.8 L1127.8 533.1 L1124.4 533.1 L1122.1 530.8 L1122.1 527.4 Z" fill="#000" stroke="none" shape-rendering="crispEdges"/>
<rect x="1114" y="542" width="25" height="6" fill="#000" stroke="none"/>
<rect x="1168" y="471" width="17" height="58" fill="#fff" stroke-width="2"/>
<rect x="1144.5" y="428.5" width="29" height="12" fill="#fff"/>
<path d="M1200 428.5 L1218 434.5 L1200 440.5 Z" fill="#000" stroke="none" shape-rendering="auto"/>
<path d="M1144 561.5 L1149.5 573 L1155.5 561.5" fill="none" shape-rendering="auto"/>
<path d="M1100.4 557.1 L1103.8 557.1 L1106.1 559.4 L1106.1 562.8 L1103.8 565.1 L1100.4 565.1 L1098.1 562.8 L1098.1 559.4 Z" fill="#000" stroke="none" shape-rendering="crispEdges"/>
<path d="M1124.4 557.1 L1127.8 557.1 L1130.1 559.4 L1130.1 562.8 L1127.8 565.1 L1124.4 565.1 L1122.1 562.8 L1122.1 559.4 Z" fill="#000" stroke="none" shape-rendering="crispEdges"/>
<path d="M1124.4 616.1 L1127.8 616.1 L1130.1 618.4 L1130.1 621.8 L1127.8 624.1 L1124.4 624.1 L1122.1 621.8 L1122.1 618.4 Z" fill="#000" stroke="none" shape-rendering="crispEdges"/>
<rect x="1114" y="632" width="25" height="6" fill="#000" stroke="none"/>
<rect x="1168" y="562" width="17" height="58" fill="#fff" stroke-width="2"/>
<path d="M1144 653.5 L1149.5 665 L1155.5 653.5" fill="none" shape-rendering="auto"/>
<path d="M1100.4 649.1 L1103.8 649.1 L1106.1 651.4 L1106.1 654.8 L1103.8 657.1 L1100.4 657.1 L1098.1 654.8 L1098.1 651.4 Z" fill="#000" stroke="none" shape-rendering="crispEdges"/>
<path d="M1124.4 649.1 L1127.8 649.1 L1130.1 651.4 L1130.1 654.8 L1127.8 657.1 L1124.4 657.1 L1122.1 654.8 L1122.1 651.4 Z" fill="#000" stroke="none" shape-rendering="crispEdges"/>
<path d="M1124.4 708.1 L1127.8 708.1 L1130.1 710.4 L1130.1 713.8 L1127.8 716.1 L1124.4 716.1 L1122.1 713.8 L1122.1 710.4 Z" fill="#000" stroke="none" shape-rendering="crispEdges"/>
<rect x="1114" y="724" width="25" height="6" fill="#000" stroke="none"/>
<rect x="1168" y="654" width="17" height="58" fill="#fff" stroke-width="2"/>
<path d="M287.5 886.5 C295.48 886.5 295.48 898.5 287.5 898.5 C295.48 898.5 295.48 910.5 287.5 910.5 C295.48 910.5 295.48 922.5 287.5 922.5 C295.48 922.5 295.48 934.5 287.5 934.5" fill="none" shape-rendering="auto"/>
<path d="M298.5 888 V932" stroke-dasharray="7 4"/>
<path d="M311.5 816.5 C302.86 816.5 302.86 828.25 311.5 828.25 C302.86 828.25 302.86 840 311.5 840 C302.86 840 302.86 851.75 311.5 851.75 C302.86 851.75 302.86 863.5 311.5 863.5 C302.86 863.5 302.86 875.25 311.5 875.25 C302.86 875.25 302.86 887 311.5 887 C302.86 887 302.86 898.75 311.5 898.75 C302.86 898.75 302.86 910.5 311.5 910.5 C302.86 910.5 302.86 922.25 311.5 922.25 C302.86 922.25 302.86 934 311.5 934 C302.86 934 302.86 945.75 311.5 945.75 C302.86 945.75 302.86 957.5 311.5 957.5" fill="none" shape-rendering="auto"/>
<circle cx="381.5" cy="816.5" r="3" fill="#fff" shape-rendering="crispEdges"/>
<circle cx="417.5" cy="816.5" r="3" fill="#fff" shape-rendering="crispEdges"/>
<path d="M384 813 L418 804" stroke-width="1" shape-rendering="auto"/>
<path d="M448.5 808.5 L461.5 816.5 L448.5 824.5 Z M461.5 808.5 V824.5" fill="#fff" shape-rendering="auto"/>
<path d="M491.4 812.1 L494.8 812.1 L497.1 814.4 L497.1 817.8 L494.8 820.1 L491.4 820.1 L489.1 817.8 L489.1 814.4 Z" fill="#000" stroke="none" shape-rendering="crispEdges"/>
<path d="M400.5 814 V836" stroke-dasharray="6 4"/>
<circle cx="381.5" cy="845.5" r="3" fill="#fff" shape-rendering="crispEdges"/>
<circle cx="417.5" cy="845.5" r="3" fill="#fff" shape-rendering="crispEdges"/>
<path d="M384 842 L418 834" stroke-width="1" shape-rendering="auto"/>
<path d="M448.5 837.5 L461.5 845.5 L448.5 853.5 Z M461.5 837.5 V853.5" fill="#fff" shape-rendering="auto"/>
<circle cx="334.5" cy="863.5" r="6" fill="#fff" shape-rendering="crispEdges"/>
<rect x="384.5" y="905.5" width="31" height="12" fill="#fff"/>
<path d="M438.4 907.1 L441.8 907.1 L444.1 909.4 L444.1 912.8 L441.8 915.1 L438.4 915.1 L436.1 912.8 L436.1 909.4 Z" fill="#000" stroke="none" shape-rendering="crispEdges"/>
<circle cx="467.5" cy="911.5" r="3" fill="#fff" shape-rendering="crispEdges"/>
<circle cx="502.5" cy="911.5" r="3" fill="#fff" shape-rendering="crispEdges"/>
<path d="M470 908 L503 898" stroke-width="1" shape-rendering="auto"/>
<path d="M536.4 939.1 L539.8 939.1 L542.1 941.4 L542.1 944.8 L539.8 947.1 L536.4 947.1 L534.1 944.8 L534.1 941.4 Z" fill="#000" stroke="none" shape-rendering="crispEdges"/>
<path d="M536.4 959.1 L539.8 959.1 L542.1 961.4 L542.1 964.8 L539.8 967.1 L536.4 967.1 L534.1 964.8 L534.1 961.4 Z" fill="#000" stroke="none" shape-rendering="crispEdges"/>
<path d="M438.4 939.1 L441.8 939.1 L444.1 941.4 L444.1 944.8 L441.8 947.1 L438.4 947.1 L436.1 944.8 L436.1 941.4 Z" fill="#000" stroke="none" shape-rendering="crispEdges"/>
<path d="M438.4 959.1 L441.8 959.1 L444.1 961.4 L444.1 964.8 L441.8 967.1 L438.4 967.1 L436.1 964.8 L436.1 961.4 Z" fill="#000" stroke="none" shape-rendering="crispEdges"/>
<rect x="428" y="981" width="25" height="6" fill="#000" stroke="none"/>
<path d="M496.5 935.5 L482.5 943.5 L496.5 951.5 Z M482.5 935.5 V951.5" fill="#fff" shape-rendering="auto"/>
<path d="M496.5 955.5 L482.5 963.5 L496.5 971.5 Z M482.5 955.5 V971.5" fill="#fff" shape-rendering="auto"/>
<path d="M526 981.5 H551 M526.5 982 L520.5 994.5 M538.5 982 L532.5 994.5 M550.5 982 L544.5 994.5" fill="none" shape-rendering="auto"/>
<circle cx="547.5" cy="801.5" r="6" fill="#fff" shape-rendering="crispEdges"/>
<path d="M545.4 812.1 L548.8 812.1 L551.1 814.4 L551.1 817.8 L548.8 820.1 L545.4 820.1 L543.1 817.8 L543.1 814.4 Z" fill="#000" stroke="none" shape-rendering="crispEdges"/>
<rect x="538" y="856" width="20" height="4" fill="#fff" stroke="none"/>
<path d="M538 855.5 H558"/>
<path d="M538 860.5 H558"/>
<path d="M552 848.5 H559 M555.5 845 V852" shape-rendering="crispEdges"/>
<rect x="535" y="886" width="25" height="6" fill="#000" stroke="none"/>
<path d="M577.4 812.1 L580.8 812.1 L583.1 814.4 L583.1 817.8 L580.8 820.1 L577.4 820.1 L575.1 817.8 L575.1 814.4 Z" fill="#000" stroke="none" shape-rendering="crispEdges"/>
<rect x="573.5" y="843.5" width="12" height="29" fill="#fff"/>
<rect x="573.5" y="893.5" width="12" height="29" fill="#fff"/>
<rect x="567" y="940" width="25" height="6" fill="#000" stroke="none"/>
<rect x="614" y="805" width="38" height="11" fill="#fff" stroke="none"/>
<path d="M615.5 816.5 C615.5 808.52 627.5 808.52 627.5 816.5 C627.5 808.52 639.5 808.52 639.5 816.5 C639.5 808.52 651.5 808.52 651.5 816.5" fill="none" shape-rendering="auto"/>
<path d="M682.4 812.1 L685.8 812.1 L688.1 814.4 L688.1 817.8 L685.8 820.1 L682.4 820.1 L680.1 817.8 L680.1 814.4 Z" fill="#000" stroke="none" shape-rendering="crispEdges"/>
<circle cx="684.5" cy="801.5" r="6" fill="#fff" shape-rendering="crispEdges"/>
<rect x="675" y="853" width="20" height="4" fill="#fff" stroke="none"/>
<path d="M675 852.5 H695"/>
<path d="M675 857.5 H695"/>
<path d="M672 845.5 H679 M675.5 842 V849" shape-rendering="crispEdges"/>
<rect x="672" y="886" width="25" height="6" fill="#000" stroke="none"/>
<rect x="730.5" y="810.5" width="30" height="12" fill="#fff"/>
<path d="M790.4 812.1 L793.8 812.1 L796.1 814.4 L796.1 817.8 L793.8 820.1 L790.4 820.1 L788.1 817.8 L788.1 814.4 Z" fill="#000" stroke="none" shape-rendering="crispEdges"/>
<circle cx="792.5" cy="801.5" r="6" fill="#fff" shape-rendering="crispEdges"/>
<rect x="783" y="853" width="20" height="4" fill="#fff" stroke="none"/>
<path d="M783 852.5 H803"/>
<path d="M783 857.5 H803"/>
<path d="M781 845.5 H788 M784.5 842 V849" shape-rendering="crispEdges"/>
<rect x="780" y="886" width="25" height="6" fill="#000" stroke="none"/>
<circle cx="145.5" cy="887.5" r="6" fill="#fff" shape-rendering="crispEdges"/>
<circle cx="145.5" cy="916.5" r="6" fill="#fff" shape-rendering="crispEdges"/>
<circle cx="145.5" cy="946.5" r="6" fill="#fff" shape-rendering="crispEdges"/>
<rect x="160.5" y="883.5" width="6" height="6" fill="#fff"/>
<path d="M167 884 L198 876" stroke-width="1" shape-rendering="auto"/>
<circle cx="198.5" cy="887.5" r="3" fill="#fff" shape-rendering="crispEdges"/>
<circle cx="163.5" cy="916.5" r="3" fill="#fff" shape-rendering="crispEdges"/>
<path d="M166 913.5 L198 905.5" stroke-width="1" shape-rendering="auto"/>
<circle cx="198.5" cy="916.5" r="3" fill="#fff" shape-rendering="crispEdges"/>
<rect x="216.5" y="910.5" width="29" height="12" fill="#fff"/>
<path d="M180.5 885 V907" stroke-dasharray="6 4"/>
<path d="M151 963.5 H175 M151.5 964 L145.5 976.5 M163.5 964 L157.5 976.5 M174.5 964 L168.5 976.5" fill="none" shape-rendering="auto"/>
<path d="M311.5 969.5 C302.86 969.5 302.86 981.5 311.5 981.5 C302.86 981.5 302.86 993.5 311.5 993.5 C302.86 993.5 302.86 1005.5 311.5 1005.5 C302.86 1005.5 302.86 1017.5 311.5 1017.5" fill="none" shape-rendering="auto"/>
<circle cx="367.5" cy="969.5" r="6" fill="#fff" shape-rendering="crispEdges"/>
<circle cx="331.5" cy="993.5" r="6" fill="#fff" shape-rendering="crispEdges"/>
<circle cx="367.5" cy="1017.5" r="6" fill="#fff" shape-rendering="crispEdges"/>
<path d="M311.5 1028.5 C302.86 1028.5 302.86 1040.5 311.5 1040.5 C302.86 1040.5 302.86 1052.5 311.5 1052.5 C302.86 1052.5 302.86 1064.5 311.5 1064.5 C302.86 1064.5 302.86 1076.5 311.5 1076.5" fill="none" shape-rendering="auto"/>
<path d="M378.5 1070.5 L420.5 1028.5 L461.5 1070.5 L420.5 1111.5 Z" fill="none" shape-rendering="auto"/>
<path d="M400.91 1060.81 L404.45 1044.55 L388.19 1048.09 Z M412.09 1052.19 L396.81 1036.91" fill="none" shape-rendering="auto"/>
<path d="M429.67 1050.78 L445.89 1054.51 L442.55 1038.2 Z M438.16 1062.05 L453.62 1046.96" fill="none" shape-rendering="auto"/>
<path d="M388.2 1092.55 L404.51 1095.89 L400.78 1079.67 Z M396.96 1103.62 L412.05 1088.16" fill="none" shape-rendering="auto"/>
<path d="M442.41 1102.31 L445.95 1086.05 L429.69 1089.59 Z M453.59 1093.69 L438.31 1078.41" fill="none" shape-rendering="auto"/>
<path d="M418.4 1024.1 L421.8 1024.1 L424.1 1026.4 L424.1 1029.8 L421.8 1032.1 L418.4 1032.1 L416.1 1029.8 L416.1 1026.4 Z" fill="#000" stroke="none" shape-rendering="crispEdges"/>
<path d="M376.4 1066.1 L379.8 1066.1 L382.1 1068.4 L382.1 1071.8 L379.8 1074.1 L376.4 1074.1 L374.1 1071.8 L374.1 1068.4 Z" fill="#000" stroke="none" shape-rendering="crispEdges"/>
<path d="M459.4 1066.1 L462.8 1066.1 L465.1 1068.4 L465.1 1071.8 L462.8 1074.1 L459.4 1074.1 L457.1 1071.8 L457.1 1068.4 Z" fill="#000" stroke="none" shape-rendering="crispEdges"/>
<path d="M418.4 1107.1 L421.8 1107.1 L424.1 1109.4 L424.1 1112.8 L421.8 1115.1 L418.4 1115.1 L416.1 1112.8 L416.1 1109.4 Z" fill="#000" stroke="none" shape-rendering="crispEdges"/>
<rect x="349" y="1087" width="25" height="6" fill="#000" stroke="none"/>
<path d="M506.4 1066.1 L509.8 1066.1 L512.1 1068.4 L512.1 1071.8 L509.8 1074.1 L506.4 1074.1 L504.1 1071.8 L504.1 1068.4 Z" fill="#000" stroke="none" shape-rendering="crispEdges"/>
<rect x="524.5" y="1064.5" width="29" height="12" fill="#fff"/>
<path d="M565.4 1066.1 L568.8 1066.1 L571.1 1068.4 L571.1 1071.8 L568.8 1074.1 L565.4 1074.1 L563.1 1071.8 L563.1 1068.4 Z" fill="#000" stroke="none" shape-rendering="crispEdges"/>
<rect x="499" y="1092" width="20" height="4" fill="#fff" stroke="none"/>
<path d="M499 1091.5 H519"/>
<path d="M499 1096.5 H519"/>
<path d="M514 1085.5 H521 M517.5 1082 V1089" shape-rendering="crispEdges"/>
<rect x="496" y="1117" width="25" height="6" fill="#000" stroke="none"/>
<path d="M558.5 1085.5 H576.5 L567.5 1099.5 Z M558.5 1099.5 H576.5" fill="#fff" shape-rendering="auto"/>
<path d="M558.5 1114.5 H576.5 L567.5 1129.5 Z M558.5 1129.5 H576.5" fill="#fff" shape-rendering="auto"/>
<rect x="555" y="1144" width="25" height="6" fill="#000" stroke="none"/>
<path d="M603.5 1085.5 H621.5 L612.5 1099.5 Z M603.5 1099.5 H621.5" fill="#fff" shape-rendering="auto"/>
<path d="M603.5 1114.5 H621.5 L612.5 1129.5 Z M603.5 1129.5 H621.5" fill="#fff" shape-rendering="auto"/>
<rect x="600" y="1144" width="25" height="6" fill="#000" stroke="none"/>
<path d="M587 1084.5 L583.5 1088" fill="none" stroke-width="1.2" shape-rendering="auto"/>
<path d="M592.5 1079.5 L584.5 1082 L589.5 1087.5 Z" fill="#000" stroke="#000" stroke-width="0.8" shape-rendering="auto"/>
<path d="M592 1088.5 L588.5 1092" fill="none" stroke-width="1.2" shape-rendering="auto"/>
<path d="M597.5 1083.5 L589.5 1086 L594.5 1091.5 Z" fill="#000" stroke="#000" stroke-width="0.8" shape-rendering="auto"/>
<path d="M587 1114.5 L583.5 1118" fill="none" stroke-width="1.2" shape-rendering="auto"/>
<path d="M592.5 1109.5 L584.5 1112 L589.5 1117.5 Z" fill="#000" stroke="#000" stroke-width="0.8" shape-rendering="auto"/>
<path d="M592 1118.5 L588.5 1122" fill="none" stroke-width="1.2" shape-rendering="auto"/>
<path d="M597.5 1113.5 L589.5 1116 L594.5 1121.5 Z" fill="#000" stroke="#000" stroke-width="0.8" shape-rendering="auto"/>
<path d="M632 1084.5 L628.5 1088" fill="none" stroke-width="1.2" shape-rendering="auto"/>
<path d="M637.5 1079.5 L629.5 1082 L634.5 1087.5 Z" fill="#000" stroke="#000" stroke-width="0.8" shape-rendering="auto"/>
<path d="M637 1088.5 L633.5 1092" fill="none" stroke-width="1.2" shape-rendering="auto"/>
<path d="M642.5 1083.5 L634.5 1086 L639.5 1091.5 Z" fill="#000" stroke="#000" stroke-width="0.8" shape-rendering="auto"/>
<path d="M632 1114.5 L628.5 1118" fill="none" stroke-width="1.2" shape-rendering="auto"/>
<path d="M637.5 1109.5 L629.5 1112 L634.5 1117.5 Z" fill="#000" stroke="#000" stroke-width="0.8" shape-rendering="auto"/>
<path d="M637 1118.5 L633.5 1122" fill="none" stroke-width="1.2" shape-rendering="auto"/>
<path d="M642.5 1113.5 L634.5 1116 L639.5 1121.5 Z" fill="#000" stroke="#000" stroke-width="0.8" shape-rendering="auto"/>
<circle cx="848.5" cy="795.5" r="6" fill="#fff" shape-rendering="crispEdges"/>
<path d="M846.4 812.1 L849.8 812.1 L852.1 814.4 L852.1 817.8 L849.8 820.1 L846.4 820.1 L844.1 817.8 L844.1 814.4 Z" fill="#000" stroke="none" shape-rendering="crispEdges"/>
<path d="M882.5 808.5 L895.5 816.5 L882.5 824.5 Z M895.5 808.5 V824.5" fill="#fff" shape-rendering="auto"/>
<path d="M926.4 812.1 L929.8 812.1 L932.1 814.4 L932.1 817.8 L929.8 820.1 L926.4 820.1 L924.1 817.8 L924.1 814.4 Z" fill="#000" stroke="none" shape-rendering="crispEdges"/>
<path d="M979.4 812.1 L982.8 812.1 L985.1 814.4 L985.1 817.8 L982.8 820.1 L979.4 820.1 L977.1 817.8 L977.1 814.4 Z" fill="#000" stroke="none" shape-rendering="crispEdges"/>
<circle cx="1031.5" cy="816.5" r="6" fill="#fff" shape-rendering="crispEdges"/>
<rect x="919" y="839" width="20" height="4" fill="#fff" stroke="none"/>
<path d="M919 838.5 H939"/>
<path d="M919 843.5 H939"/>
<path d="M917 830.5 H924 M920.5 827 V834" shape-rendering="crispEdges"/>
<rect x="916" y="869" width="25" height="6" fill="#000" stroke="none"/>
<rect x="975.5" y="828.5" width="12" height="29" fill="#fff"/>
<rect x="969" y="869" width="25" height="6" fill="#000" stroke="none"/>
<path d="M898.5 884.5 L885.5 892.5 L898.5 900.5 Z M885.5 884.5 V900.5" fill="#fff" shape-rendering="auto"/>
<path d="M926.4 888.1 L929.8 888.1 L932.1 890.4 L932.1 893.8 L929.8 896.1 L926.4 896.1 L924.1 893.8 L924.1 890.4 Z" fill="#000" stroke="none" shape-rendering="crispEdges"/>
<rect x="963" y="915" width="20" height="4" fill="#fff" stroke="none"/>
<path d="M963 914.5 H983"/>
<path d="M963 919.5 H983"/>
<path d="M961 926.5 H968 M964.5 923 V930" shape-rendering="crispEdges"/>
<rect x="960" y="944" width="25" height="6" fill="#000" stroke="none"/>
<path d="M926.4 953.1 L929.8 953.1 L932.1 955.4 L932.1 958.8 L929.8 961.1 L926.4 961.1 L924.1 958.8 L924.1 955.4 Z" fill="#000" stroke="none" shape-rendering="crispEdges"/>
<rect x="922.5" y="972.5" width="12" height="30" fill="#fff"/>
<path d="M926.4 1013.1 L929.8 1013.1 L932.1 1015.4 L932.1 1018.8 L929.8 1021.1 L926.4 1021.1 L924.1 1018.8 L924.1 1015.4 Z" fill="#000" stroke="none" shape-rendering="crispEdges"/>
<path d="M970.4 1013.1 L973.8 1013.1 L976.1 1015.4 L976.1 1018.8 L973.8 1021.1 L970.4 1021.1 L968.1 1018.8 L968.1 1015.4 Z" fill="#000" stroke="none" shape-rendering="crispEdges"/>
<circle cx="999.5" cy="1017.5" r="6" fill="#fff" shape-rendering="crispEdges"/>
<rect x="922.5" y="1031.5" width="12" height="30" fill="#fff"/>
<rect x="936" y="1045" width="3" height="3" fill="#000" stroke="none"/>
<rect x="939" y="1044" width="3" height="5" fill="#000" stroke="none"/>
<rect x="942" y="1044" width="1" height="1" fill="#000" stroke="none"/>
<rect x="942" y="1048" width="1" height="1" fill="#000" stroke="none"/>
<rect x="943" y="1043" width="2" height="1" fill="#000" stroke="none"/>
<rect x="943" y="1049" width="2" height="1" fill="#000" stroke="none"/>
<path d="M926.4 1072.1 L929.8 1072.1 L932.1 1074.4 L932.1 1077.8 L929.8 1080.1 L926.4 1080.1 L924.1 1077.8 L924.1 1074.4 Z" fill="#000" stroke="none" shape-rendering="crispEdges"/>
<rect x="922.5" y="1090.5" width="12" height="30" fill="#fff"/>
<rect x="916" y="1138" width="25" height="6" fill="#000" stroke="none"/>
<rect x="963" y="1045" width="20" height="4" fill="#fff" stroke="none"/>
<path d="M963 1044.5 H983"/>
<path d="M963 1049.5 H983"/>
<path d="M961 1056.5 H968 M964.5 1053 V1060" shape-rendering="crispEdges"/>
<rect x="960" y="1082" width="25" height="6" fill="#000" stroke="none"/>
<rect x="1058.5" y="972.5" width="12" height="30" fill="#fff"/>
<path d="M1062.4 1013.1 L1065.8 1013.1 L1068.1 1015.4 L1068.1 1018.8 L1065.8 1021.1 L1062.4 1021.1 L1060.1 1018.8 L1060.1 1015.4 Z" fill="#000" stroke="none" shape-rendering="crispEdges"/>
<path d="M1106.4 1013.1 L1109.8 1013.1 L1112.1 1015.4 L1112.1 1018.8 L1109.8 1021.1 L1106.4 1021.1 L1104.1 1018.8 L1104.1 1015.4 Z" fill="#000" stroke="none" shape-rendering="crispEdges"/>
<circle cx="1135.5" cy="1017.5" r="6" fill="#fff" shape-rendering="crispEdges"/>
<rect x="1058.5" y="1031.5" width="12" height="30" fill="#fff"/>
<rect x="1072" y="1045" width="3" height="3" fill="#000" stroke="none"/>
<rect x="1075" y="1044" width="3" height="5" fill="#000" stroke="none"/>
<rect x="1078" y="1044" width="1" height="1" fill="#000" stroke="none"/>
<rect x="1078" y="1048" width="1" height="1" fill="#000" stroke="none"/>
<rect x="1079" y="1043" width="2" height="1" fill="#000" stroke="none"/>
<rect x="1079" y="1049" width="2" height="1" fill="#000" stroke="none"/>
<path d="M1062.4 1072.1 L1065.8 1072.1 L1068.1 1074.4 L1068.1 1077.8 L1065.8 1080.1 L1062.4 1080.1 L1060.1 1077.8 L1060.1 1074.4 Z" fill="#000" stroke="none" shape-rendering="crispEdges"/>
<rect x="1058.5" y="1090.5" width="12" height="30" fill="#fff"/>
<rect x="1052" y="1138" width="25" height="6" fill="#000" stroke="none"/>
<rect x="1099" y="1045" width="20" height="4" fill="#fff" stroke="none"/>
<path d="M1099 1044.5 H1119"/>
<path d="M1099 1049.5 H1119"/>
<path d="M1097 1056.5 H1104 M1100.5 1053 V1060" shape-rendering="crispEdges"/>
<rect x="1096" y="1082" width="25" height="6" fill="#000" stroke="none"/>
</g>
<g font-family="Liberation Sans, sans-serif" font-style="italic" fill="#000" stroke="#000" stroke-width="0.22">
<text transform="translate(107 95.5) scale(0.78 1)" text-anchor="end" font-size="16.5">C1</text>
<text transform="translate(107 113.5) scale(0.78 1)" text-anchor="end" font-size="16.5">330p</text>
<text transform="translate(186 95.5) scale(0.78 1)" text-anchor="end" font-size="16.5">R1</text>
<text transform="translate(186 113.5) scale(0.78 1)" text-anchor="end" font-size="16.5">220k 1W</text>
<text transform="translate(237 68.5) scale(0.78 1)" font-size="16.5">C2</text>
<text transform="translate(240 106.5) scale(0.78 1)" font-size="16.5">1n</text>
<text transform="translate(284 95.5) scale(0.78 1)" font-size="16.5">S1</text>
<text transform="translate(284 109.5) scale(0.78 1)" font-size="16.5">Fat</text>
<text transform="translate(237 128.5) scale(0.78 1)" font-size="16.5">C3</text>
<text transform="translate(240 165.5) scale(0.78 1)" font-size="16.5">1n</text>
<text transform="translate(237 183.5) scale(0.78 1)" font-size="16.5">C4</text>
<text transform="translate(233 222.5) scale(0.78 1)" font-size="16.5">250p</text>
<text transform="translate(294 131.5) scale(0.78 1)" font-size="16.5">R5</text>
<text transform="translate(288 166.5) scale(0.78 1)" font-size="16.5">220k</text>
<text transform="translate(189 181.5) scale(0.78 1)" text-anchor="end" font-size="16.5">V1.1</text>
<text transform="translate(189 199.5) scale(0.78 1)" text-anchor="end" font-size="16.5">12AX7EH</text>
<text transform="translate(25 227.5) scale(0.78 1)" font-size="16.5">High</text>
<text transform="translate(118 225.5) scale(0.78 1)" font-size="16.5">R3</text>
<text transform="translate(143 225.5) scale(0.78 1)" font-size="16.5">33k</text>
<text transform="translate(122 264.5) scale(0.78 1)" font-size="16.5">R2</text>
<text transform="translate(122 282.5) scale(0.78 1)" font-size="16.5">1M</text>
<text transform="translate(211 304.5) scale(0.78 1)" font-size="16.5">R4</text>
<text transform="translate(211 322.5) scale(0.78 1)" font-size="16.5">1k5</text>
<text transform="translate(257 304.5) scale(0.78 1)" font-size="16.5">C5</text>
<text transform="translate(257 322.5) scale(0.78 1)" font-size="16.5">680n</text>
<text transform="translate(323 211.5) scale(0.78 1)" text-anchor="end" font-size="16.5">Gain</text>
<text transform="translate(324 224.5) scale(0.78 1)" text-anchor="end" font-size="16.5">A500k</text>
<text transform="translate(347 128.5) scale(0.78 1)" font-size="16.5">C7</text>
<text transform="translate(347 164.5) scale(0.78 1)" font-size="16.5">47p</text>
<text transform="translate(427 89.5) scale(0.78 1)" font-size="16.5">C9</text>
<text transform="translate(427 106.5) scale(0.78 1)" font-size="16.5">40µ</text>
<text transform="translate(486 95.5) scale(0.78 1)" font-size="16.5">R12</text>
<text transform="translate(486 113.5) scale(0.78 1)" font-size="16.5">100k 1W</text>
<text transform="translate(506 134.5) scale(0.78 1)" font-size="16.5">C13</text>
<text transform="translate(506 171.5) scale(0.78 1)" font-size="16.5">22n</text>
<text transform="translate(579 137.5) scale(0.78 1)" font-size="16.5">R16</text>
<text transform="translate(577 169.5) scale(0.78 1)" font-size="16.5">220k</text>
<text transform="translate(538 199.5) scale(0.78 1)" text-anchor="end" font-size="16.5">R17</text>
<text transform="translate(538 216.5) scale(0.78 1)" text-anchor="end" font-size="16.5">1M</text>
<text transform="translate(618 209.5) scale(0.78 1)" text-anchor="end" font-size="16.5">Vol</text>
<text transform="translate(618 224.5) scale(0.78 1)" text-anchor="end" font-size="16.5">A500k</text>
<text transform="translate(465 163.5) scale(0.78 1)" text-anchor="end" font-size="16.5">V1.2</text>
<text transform="translate(465 180.5) scale(0.78 1)" text-anchor="end" font-size="16.5">12AX7EH</text>
<text transform="translate(415 240.5) scale(0.78 1)" font-size="16.5">R9</text>
<text transform="translate(415 257.5) scale(0.78 1)" font-size="16.5">33k</text>
<text transform="translate(437 277.5) scale(0.78 1)" text-anchor="end" font-size="16.5">C10</text>
<text transform="translate(437 296.5) scale(0.78 1)" text-anchor="end" font-size="16.5">680n</text>
<text transform="translate(486 304.5) scale(0.78 1)" font-size="16.5">R13</text>
<text transform="translate(486 322.5) scale(0.78 1)" font-size="16.5">2k7</text>
<text transform="translate(441 332.5) scale(0.78 1)" text-anchor="end" font-size="16.5">R10</text>
<text transform="translate(441 346.5) scale(0.78 1)" text-anchor="end" font-size="16.5">33k</text>
<text transform="translate(412 367.5) scale(0.78 1)" font-size="16.5">R7</text>
<text transform="translate(412 385.5) scale(0.78 1)" font-size="16.5">1M</text>
<text transform="translate(296 419.5) scale(0.78 1)" font-size="16.5">Low</text>
<text transform="translate(592 41.5) scale(0.78 1)" font-size="16.5">R20</text>
<text transform="translate(584 72.5) scale(0.78 1)" font-size="16.5">10k 1W</text>
<text transform="translate(752 86.5) scale(0.78 1)" font-size="16.5">C21</text>
<text transform="translate(752 103.5) scale(0.78 1)" font-size="16.5">40µ</text>
<text transform="translate(811 103.5) scale(0.78 1)" font-size="16.5">R32</text>
<text transform="translate(811 122.5) scale(0.78 1)" font-size="16.5">220k 1W</text>
<text transform="translate(789 163.5) scale(0.78 1)" text-anchor="end" font-size="16.5">V2.1</text>
<text transform="translate(789 180.5) scale(0.78 1)" text-anchor="end" font-size="16.5">12AX7EH</text>
<text transform="translate(697 201.5) scale(0.78 1)" font-size="16.5">R23</text>
<text transform="translate(697 233.5) scale(0.78 1)" font-size="16.5">100k</text>
<text transform="translate(676 249.5) scale(0.78 1)" font-size="16.5">S2</text>
<text transform="translate(716 261.5) scale(0.78 1)" font-size="16.5">Bright</text>
<text transform="translate(716 293.5) scale(0.78 1)" font-size="16.5">Deep</text>
<text transform="translate(675 317.5) scale(0.78 1)" font-size="16.5">C17</text>
<text transform="translate(675 335.5) scale(0.78 1)" font-size="16.5">150p</text>
<text transform="translate(811 280.5) scale(0.78 1)" font-size="16.5">R29</text>
<text transform="translate(811 298.5) scale(0.78 1)" font-size="16.5">1k5</text>
<text transform="translate(857 284.5) scale(0.78 1)" font-size="16.5">C23</text>
<text transform="translate(857 301.5) scale(0.78 1)" font-size="16.5">680n</text>
<text transform="translate(937 42.5) scale(0.78 1)" font-size="16.5">R40</text>
<text transform="translate(928 72.5) scale(0.78 1)" font-size="16.5">4k7 1W</text>
<text transform="translate(972 39.5) scale(0.78 1)" font-size="16.5">+Ua</text>
<text transform="translate(903 124.5) scale(0.78 1)" text-anchor="end" font-size="16.5">V2.2</text>
<text transform="translate(903 142.5) scale(0.78 1)" text-anchor="end" font-size="16.5">12AX7EH</text>
<text transform="translate(899 245.5) scale(0.78 1)" text-anchor="end" font-size="16.5">R33</text>
<text transform="translate(899 262.5) scale(0.78 1)" text-anchor="end" font-size="16.5">100k 1W</text>
<text transform="translate(951 249.5) scale(0.78 1)" text-anchor="end" font-size="16.5">R41</text>
<text transform="translate(951 266.5) scale(0.78 1)" text-anchor="end" font-size="16.5">47k</text>
<text transform="translate(979 211.5) scale(0.78 1)" font-size="16.5">C25</text>
<text transform="translate(976 246.5) scale(0.78 1)" font-size="16.5">500p</text>
<text transform="translate(979 266.5) scale(0.78 1)" font-size="16.5">C24</text>
<text transform="translate(979 302.5) scale(0.78 1)" font-size="16.5">22n</text>
<text transform="translate(1023 244.5) scale(0.78 1)" font-size="16.5">Treble</text>
<text transform="translate(1023 269.5) scale(0.78 1)" font-size="16.5">B250k</text>
<text transform="translate(1023 299.5) scale(0.78 1)" font-size="16.5">Bass</text>
<text transform="translate(1023 328.5) scale(0.78 1)" font-size="16.5">A500k</text>
<text transform="translate(1026 351.5) scale(0.78 1)" font-size="16.5">Mid</text>
<text transform="translate(1022 366.5) scale(0.78 1)" font-size="16.5">B25k</text>
<text transform="translate(1084 280.5) scale(0.78 1)" font-size="16.5">R45</text>
<text transform="translate(1084 298.5) scale(0.78 1)" font-size="16.5">220k</text>
<text transform="translate(1083 320.5) scale(0.78 1)" font-size="16.5">C30</text>
<text transform="translate(1083 341.5) scale(0.78 1)" font-size="16.5">500p</text>
<text transform="translate(954 313.5) scale(0.78 1)" text-anchor="end" font-size="16.5">C26</text>
<text transform="translate(954 335.5) scale(0.78 1)" text-anchor="end" font-size="16.5">22n</text>
<text transform="translate(311 527.5) scale(0.78 1)" font-size="16.5">Master</text>
<text transform="translate(311 552.5) scale(0.78 1)" font-size="16.5">A1M</text>
<text transform="translate(362 526.5) scale(0.78 1)" font-size="16.5">R8</text>
<text transform="translate(359 556.5) scale(0.78 1)" font-size="16.5">33k</text>
<text transform="translate(434 520.5) scale(0.78 1)" font-size="16.5">C11</text>
<text transform="translate(434 558.5) scale(0.78 1)" font-size="16.5">22n</text>
<text transform="translate(415 576.5) scale(0.78 1)" font-size="16.5">S4</text>
<text transform="translate(415 593.5) scale(0.78 1)" font-size="16.5">Off</text>
<text transform="translate(177 583.5) scale(0.78 1)" font-size="16.5">Pwramp In</text>
<text transform="translate(326 591.5) scale(0.78 1)" font-size="16.5">R6</text>
<text transform="translate(326 620.5) scale(0.78 1)" font-size="16.5">1M</text>
<text transform="translate(252 624.5) scale(0.78 1)" font-size="16.5">C6</text>
<text transform="translate(249 665.5) scale(0.78 1)" font-size="16.5">680n</text>
<text transform="translate(196 659.5) scale(0.78 1)" font-size="16.5">-fb loop</text>
<text transform="translate(329 641.5) scale(0.78 1)" font-size="16.5">Classic</text>
<text transform="translate(316 659.5) scale(0.78 1)" text-anchor="end" font-size="16.5">S3.1</text>
<text transform="translate(329 672.5) scale(0.78 1)" font-size="16.5">Original</text>
<text transform="translate(290 707.5) scale(0.78 1)" font-size="16.5">S3.2</text>
<text transform="translate(409 685.5) scale(0.78 1)" font-size="16.5">C12</text>
<text transform="translate(403 724.5) scale(0.78 1)" font-size="16.5">680n</text>
<text transform="translate(359 722.5) scale(0.78 1)" font-size="16.5">C8</text>
<text transform="translate(350 736.5) scale(0.78 1)" font-size="16.5">100n</text>
<text transform="translate(461 697.5) scale(0.78 1)" font-size="16.5">Presence</text>
<text transform="translate(459 712.5) scale(0.78 1)" font-size="16.5">B5k</text>
<text transform="translate(440 620.5) scale(0.78 1)" text-anchor="end" font-size="16.5">R11</text>
<text transform="translate(440 638.5) scale(0.78 1)" text-anchor="end" font-size="16.5">10k</text>
<text transform="translate(490 620.5) scale(0.78 1)" text-anchor="end" font-size="16.5">R15</text>
<text transform="translate(490 638.5) scale(0.78 1)" text-anchor="end" font-size="16.5">1M</text>
<text transform="translate(453 676.5) scale(0.78 1)" font-size="16.5">C14</text>
<text transform="translate(480 676.5) scale(0.78 1)" font-size="16.5">100n</text>
<text transform="translate(491 562.5) scale(0.78 1)" text-anchor="end" font-size="16.5">R14</text>
<text transform="translate(491 579.5) scale(0.78 1)" text-anchor="end" font-size="16.5">1M</text>
<text transform="translate(524 586.5) scale(0.78 1)" font-size="16.5">R18</text>
<text transform="translate(524 614.5) scale(0.78 1)" font-size="16.5">470</text>
<text transform="translate(692 479.5) scale(0.78 1)" font-size="16.5">C18</text>
<text transform="translate(690 517.5) scale(0.78 1)" font-size="16.5">100n</text>
<text transform="translate(598 532.5) scale(0.78 1)" font-size="16.5">V3.1</text>
<text transform="translate(596 550.5) scale(0.78 1)" font-size="16.5">12AX7EH</text>
<text transform="translate(684 556.5) scale(0.78 1)" font-size="16.5">R24</text>
<text transform="translate(681 572.5) scale(0.78 1)" font-size="16.5">82k 1W</text>
<text transform="translate(684 629.5) scale(0.78 1)" font-size="16.5">R25</text>
<text transform="translate(681 647.5) scale(0.78 1)" font-size="16.5">100k 1W</text>
<text transform="translate(639 599.5) scale(0.78 1)" text-anchor="end" font-size="16.5">+Ua</text>
<text transform="translate(752 526.5) scale(0.78 1)" font-size="16.5">R26</text>
<text transform="translate(752 543.5) scale(0.78 1)" font-size="16.5">220k</text>
<text transform="translate(748 572.5) scale(0.78 1)" font-size="16.5">-Ub1</text>
<text transform="translate(748 629.5) scale(0.78 1)" font-size="16.5">-Ub2</text>
<text transform="translate(752 660.5) scale(0.78 1)" font-size="16.5">R27</text>
<text transform="translate(752 676.5) scale(0.78 1)" font-size="16.5">220k</text>
<text transform="translate(598 650.5) scale(0.78 1)" font-size="16.5">V3.2</text>
<text transform="translate(596 668.5) scale(0.78 1)" font-size="16.5">12AX7EH</text>
<text transform="translate(692 679.5) scale(0.78 1)" font-size="16.5">C19</text>
<text transform="translate(690 718.5) scale(0.78 1)" font-size="16.5">100n</text>
<text transform="translate(787 485.5) scale(0.78 1)" font-size="16.5">R30</text>
<text transform="translate(787 515.5) scale(0.78 1)" font-size="16.5">1k5</text>
<text transform="translate(790 686.5) scale(0.78 1)" font-size="16.5">R31</text>
<text transform="translate(790 716.5) scale(0.78 1)" font-size="16.5">1k5</text>
<text transform="translate(899 506.5) scale(0.78 1)" font-size="16.5">V4</text>
<text transform="translate(886 523.5) scale(0.78 1)" font-size="16.5">6V6 TS</text>
<text transform="translate(934 474.5) scale(0.78 1)" font-size="16.5">R36</text>
<text transform="translate(923 502.5) scale(0.78 1)" font-size="16.5">430 2W</text>
<text transform="translate(853 550.5) scale(0.78 1)" text-anchor="end" font-size="16.5">R34</text>
<text transform="translate(853 567.5) scale(0.78 1)" text-anchor="end" font-size="16.5">1 1W</text>
<text transform="translate(853 628.5) scale(0.78 1)" text-anchor="end" font-size="16.5">R35</text>
<text transform="translate(853 647.5) scale(0.78 1)" text-anchor="end" font-size="16.5">1 1W</text>
<text transform="translate(953 611.5) scale(0.78 1)" font-size="16.5">+Us</text>
<text transform="translate(1015 611.5) scale(0.78 1)" font-size="16.5">+Up</text>
<text transform="translate(894 659.5) scale(0.78 1)" font-size="16.5">V5</text>
<text transform="translate(886 676.5) scale(0.78 1)" font-size="16.5">6V6 TS</text>
<text transform="translate(934 697.5) scale(0.78 1)" font-size="16.5">R37</text>
<text transform="translate(923 730.5) scale(0.78 1)" font-size="16.5">430 2W</text>
<text transform="translate(1148 422.5) scale(0.78 1)" font-size="16.5">R46</text>
<text transform="translate(1145 455.5) scale(0.78 1)" font-size="16.5">100k</text>
<text transform="translate(1191 422.5) scale(0.78 1)" font-size="16.5">-fb loop</text>
<text transform="translate(1044 535.5) scale(0.78 1)" font-size="16.5">T2</text>
<text transform="translate(1191 529.5) scale(0.78 1)" font-size="16.5">Out 16</text>
<text transform="translate(1192 620.5) scale(0.78 1)" font-size="16.5">Out 8</text>
<text transform="translate(1192 713.5) scale(0.78 1)" font-size="16.5">Out 4</text>
<text transform="translate(1041 750.5) scale(1.04 1)" font-size="14.5">Hammond 1650FA</text>
<text transform="translate(373 806.5) scale(0.78 1)" font-size="16.5">S6</text>
<text transform="translate(436 802.5) scale(0.78 1)" font-size="16.5">FR207</text>
<text transform="translate(436 868.5) scale(0.78 1)" font-size="16.5">FR207</text>
<text transform="translate(316 845.5) scale(0.78 1)" font-size="16.5">~250V</text>
<text transform="translate(283 871.5) scale(0.78 1)" font-size="16.5">T1</text>
<text transform="translate(344 868.5) scale(0.78 1)" font-size="16.5">B</text>
<text transform="translate(319 892.5) scale(0.78 1)" font-size="16.5">~50V</text>
<text transform="translate(319 940.5) scale(0.78 1)" font-size="16.5">~300V</text>
<text transform="translate(376 866.5) scale(0.78 1)" font-size="16.5">Standby</text>
<text transform="translate(379 898.5) scale(0.78 1)" font-size="16.5">250mA</text>
<text transform="translate(379 934.5) scale(0.78 1)" font-size="16.5">ZH240</text>
<text transform="translate(477 896.5) scale(0.78 1)" font-size="16.5">Lift</text>
<text transform="translate(505 905.5) scale(0.78 1)" font-size="16.5">S7</text>
<text transform="translate(465 928.5) scale(0.78 1)" font-size="16.5">Ground</text>
<text transform="translate(463 987.5) scale(0.78 1)" font-size="16.5">2xFR307</text>
<text transform="translate(509 855.5) scale(0.78 1)" font-size="16.5">C16</text>
<text transform="translate(509 871.5) scale(0.78 1)" font-size="16.5">40µ</text>
<text transform="translate(536 789.5) scale(0.78 1)" font-size="16.5">+Up</text>
<text transform="translate(591 855.5) scale(0.78 1)" font-size="16.5">R21</text>
<text transform="translate(591 872.5) scale(0.78 1)" font-size="16.5">100k 1W</text>
<text transform="translate(591 904.5) scale(0.78 1)" font-size="16.5">R22</text>
<text transform="translate(591 922.5) scale(0.78 1)" font-size="16.5">100k 1W</text>
<text transform="translate(625 802.5) scale(0.78 1)" font-size="16.5">L1</text>
<text transform="translate(586 832.5) scale(0.88 1)" font-size="14">Hammond 193H</text>
<text transform="translate(673 789.5) scale(0.78 1)" font-size="16.5">+Us</text>
<text transform="translate(734 806.5) scale(0.78 1)" font-size="16.5">R28</text>
<text transform="translate(725 835.5) scale(0.78 1)" font-size="16.5">4k7 1W</text>
<text transform="translate(698 851.5) scale(0.78 1)" font-size="16.5">C20</text>
<text transform="translate(698 869.5) scale(0.78 1)" font-size="16.5">40µ</text>
<text transform="translate(781 789.5) scale(0.78 1)" font-size="16.5">+Ua</text>
<text transform="translate(808 851.5) scale(0.78 1)" font-size="16.5">C22</text>
<text transform="translate(808 869.5) scale(0.78 1)" font-size="16.5">40µ</text>
<text transform="translate(98 907.5) scale(0.78 1)" font-size="16.5">~220V</text>
<text transform="translate(205 877.5) scale(0.78 1)" font-size="16.5">S5</text>
<text transform="translate(223 905.5) scale(0.78 1)" font-size="16.5">F1</text>
<text transform="translate(223 940.5) scale(0.78 1)" font-size="16.5">1A</text>
<text transform="translate(164 936.5) scale(0.78 1)" font-size="16.5">Power</text>
<text transform="translate(134 990.5) scale(0.78 1)" font-size="16.5">Chassis</text>
<text transform="translate(213 960.5) scale(0.82 1)" font-size="13">Hammond 372DX</text>
<text transform="translate(341 998.5) scale(0.78 1)" font-size="16.5">CT</text>
<text transform="translate(368 990.5) scale(0.78 1)" font-size="16.5">Heater</text>
<text transform="translate(366 1006.5) scale(0.78 1)" font-size="16.5">~6.3V</text>
<text transform="translate(343 1058.5) scale(0.78 1)" font-size="16.5">~5V</text>
<text transform="translate(526 1061.5) scale(0.78 1)" font-size="16.5">R19</text>
<text transform="translate(470 1091.5) scale(0.78 1)" font-size="16.5">C15</text>
<text transform="translate(457 1108.5) scale(0.78 1)" font-size="16.5">1000µ</text>
<text transform="translate(648 1111.5) scale(0.78 1)" font-size="16.5">Backlight</text>
<text transform="translate(857 801.5) scale(0.78 1)" font-size="16.5">B</text>
<text transform="translate(870 840.5) scale(0.78 1)" font-size="16.5">FR207</text>
<text transform="translate(941 837.5) scale(0.78 1)" font-size="16.5">C27</text>
<text transform="translate(939 855.5) scale(0.78 1)" font-size="16.5">100µ</text>
<text transform="translate(994 839.5) scale(0.78 1)" font-size="16.5">R42</text>
<text transform="translate(994 857.5) scale(0.78 1)" font-size="16.5">220k</text>
<text transform="translate(1041 822.5) scale(0.78 1)" font-size="16.5">CT</text>
<text transform="translate(870 916.5) scale(0.78 1)" font-size="16.5">FR207</text>
<text transform="translate(985 914.5) scale(0.78 1)" font-size="16.5">C28</text>
<text transform="translate(985 932.5) scale(0.78 1)" font-size="16.5">100µ</text>
<text transform="translate(916 985.5) scale(0.78 1)" text-anchor="end" font-size="16.5">R38</text>
<text transform="translate(916 1001.5) scale(0.78 1)" text-anchor="end" font-size="16.5">47k</text>
<text transform="translate(916 1044.5) scale(0.78 1)" text-anchor="end" font-size="16.5">Rb1</text>
<text transform="translate(916 1059.5) scale(0.78 1)" text-anchor="end" font-size="16.5">50k</text>
<text transform="translate(916 1103.5) scale(0.78 1)" text-anchor="end" font-size="16.5">R39</text>
<text transform="translate(916 1120.5) scale(0.78 1)" text-anchor="end" font-size="16.5">33k</text>
<text transform="translate(1008 1023.5) scale(0.78 1)" font-size="16.5">-Ub1</text>
<text transform="translate(986 1044.5) scale(0.78 1)" font-size="16.5">C29</text>
<text transform="translate(989 1059.5) scale(0.78 1)" font-size="16.5">10µ</text>
<text transform="translate(1052 985.5) scale(0.78 1)" text-anchor="end" font-size="16.5">R43</text>
<text transform="translate(1052 1001.5) scale(0.78 1)" text-anchor="end" font-size="16.5">47k</text>
<text transform="translate(1052 1044.5) scale(0.78 1)" text-anchor="end" font-size="16.5">Rb2</text>
<text transform="translate(1052 1059.5) scale(0.78 1)" text-anchor="end" font-size="16.5">50k</text>
<text transform="translate(1052 1103.5) scale(0.78 1)" text-anchor="end" font-size="16.5">R44</text>
<text transform="translate(1052 1120.5) scale(0.78 1)" text-anchor="end" font-size="16.5">33k</text>
<text transform="translate(1144 1023.5) scale(0.78 1)" font-size="16.5">-Ub2</text>
<text transform="translate(1121 1044.5) scale(0.78 1)" font-size="16.5">C31</text>
<text transform="translate(1124 1059.5) scale(0.78 1)" font-size="16.5">10µ</text>
</g>
<g font-family="Liberation Serif, serif" font-weight="bold" font-style="italic">
<text x="1040" y="120" font-size="50" fill="#f00" textLength="220" lengthAdjust="spacingAndGlyphs">mod S XX</text>
<text x="1050" y="166" font-size="38" fill="#000" textLength="182" lengthAdjust="spacing">by Medved</text>
<text x="1085" y="209" font-size="38" fill="#000" textLength="104" lengthAdjust="spacing">(2011)</text>
</g>
</svg>
</body></html>
